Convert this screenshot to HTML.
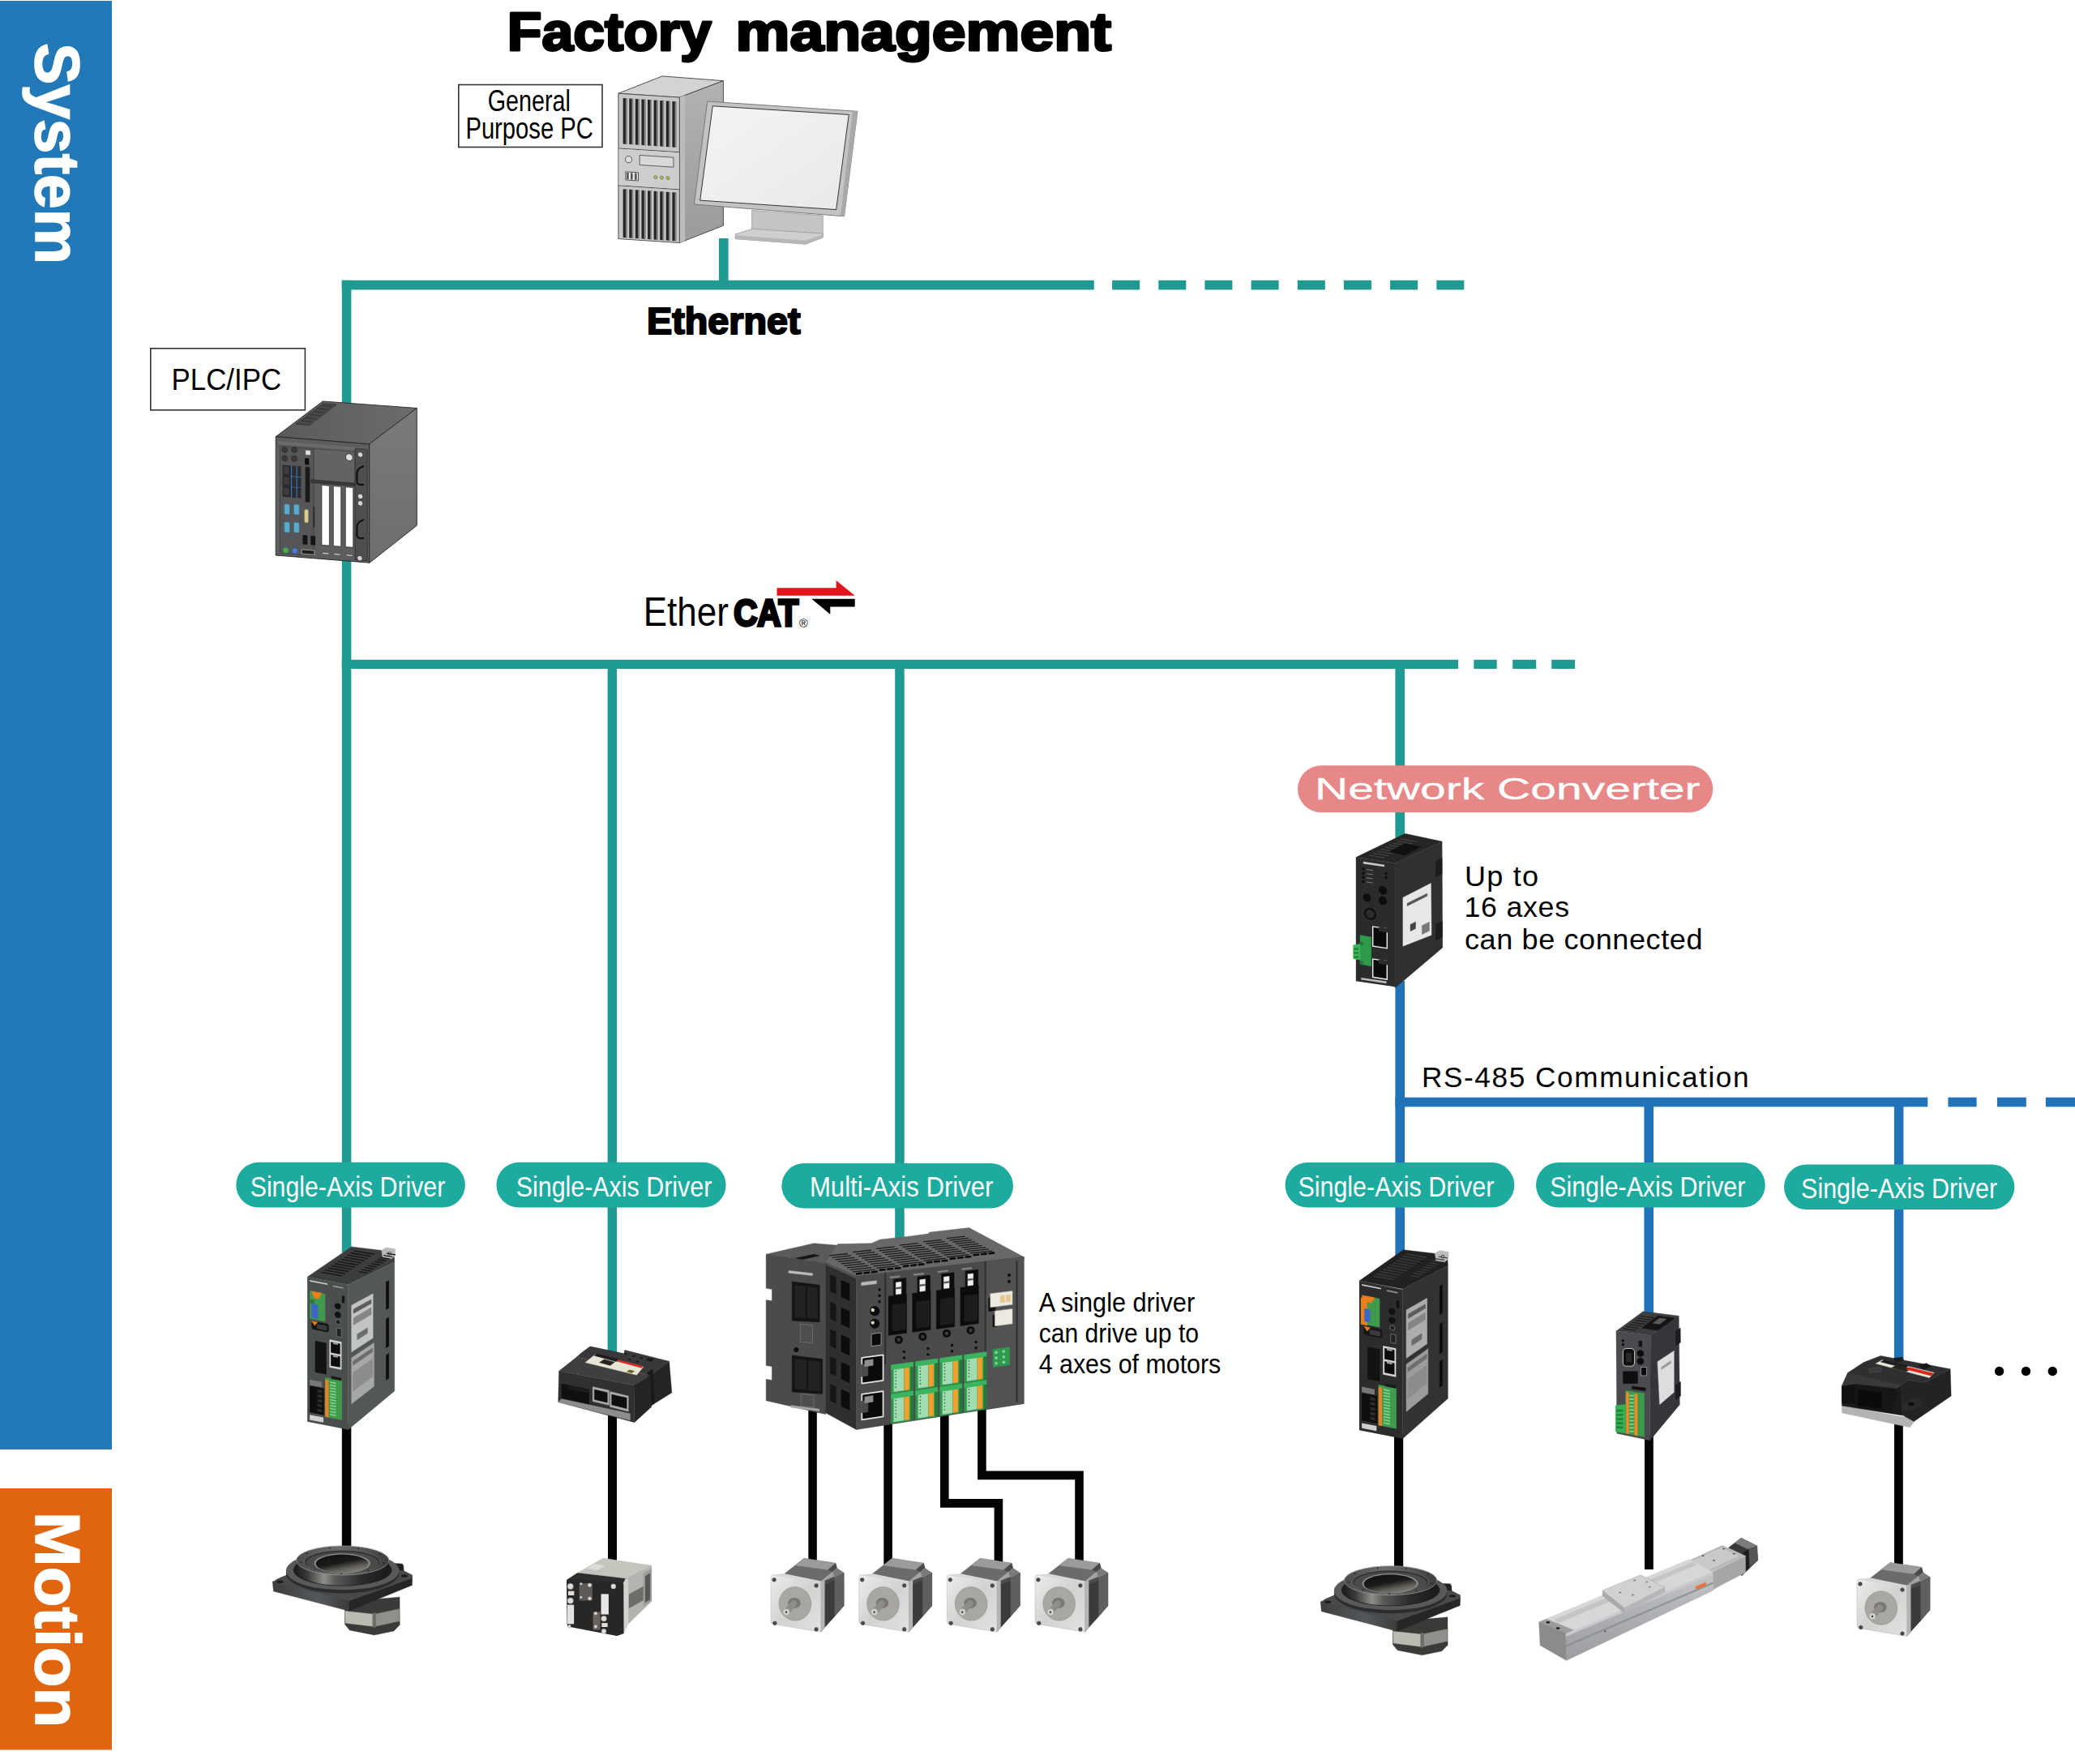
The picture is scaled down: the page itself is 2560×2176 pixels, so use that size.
<!DOCTYPE html>
<html lang="en"><head><meta charset="utf-8"><title>System configuration</title>
<style>
html,body{margin:0;padding:0;background:#fff}
body{width:2560px;height:2176px;overflow:hidden}
svg{display:block;font-family:'Liberation Sans', sans-serif}
</style></head><body>
<svg width="2560" height="2176" viewBox="0 0 2560 2176">
<defs><linearGradient id="gTowerR" x1="0" y1="0" x2="0" y2="1"><stop offset="0" stop-color="#b2b2b2"/><stop offset="1" stop-color="#9b9b9b"/></linearGradient><linearGradient id="gScreen" x1="0" y1="0" x2="1" y2="1"><stop offset="0" stop-color="#f4f4f4"/><stop offset="1" stop-color="#e9e9e9"/></linearGradient><linearGradient id="gIpcTop" x1="0" y1="0" x2="1" y2="0"><stop offset="0" stop-color="#5a5a5c"/><stop offset="1" stop-color="#6c6c6e"/></linearGradient><linearGradient id="gIpcR" x1="0" y1="0" x2="0" y2="1"><stop offset="0" stop-color="#7a7a7c"/><stop offset="1" stop-color="#6e6e70"/></linearGradient><linearGradient id="gRingSide" x1="0" y1="0" x2="1" y2="0"><stop offset="0" stop-color="#1e1e1e"/><stop offset="0.12" stop-color="#3a3a3a"/><stop offset="0.3" stop-color="#8e8e8a"/><stop offset="0.42" stop-color="#5a5a58"/><stop offset="0.7" stop-color="#2c2c2c"/><stop offset="1" stop-color="#1a1a1a"/></linearGradient><linearGradient id="gRingTop" x1="0" y1="0" x2="1" y2="0"><stop offset="0" stop-color="#4a4b4c"/><stop offset="0.45" stop-color="#6a6b6c"/><stop offset="1" stop-color="#3c3d3e"/></linearGradient><linearGradient id="gBaseL" x1="0" y1="0" x2="1" y2="0"><stop offset="0" stop-color="#3c3d3e"/><stop offset="0.6" stop-color="#55585a"/><stop offset="1" stop-color="#3a3b3c"/></linearGradient><linearGradient id="gHole" x1="0.2" y1="0" x2="0.75" y2="1"><stop offset="0" stop-color="#101010"/><stop offset="0.45" stop-color="#1b1b1b"/><stop offset="0.72" stop-color="#5e5c56"/><stop offset="1" stop-color="#8a877f"/></linearGradient><linearGradient id="gFlange" x1="0" y1="0" x2="1" y2="1"><stop offset="0" stop-color="#ededed"/><stop offset="0.5" stop-color="#d2d2d2"/><stop offset="1" stop-color="#e2e2e2"/></linearGradient><linearGradient id="gLinF" x1="0" y1="0" x2="0" y2="1"><stop offset="0" stop-color="#c2c4c6"/><stop offset="0.45" stop-color="#aeb0b3"/><stop offset="1" stop-color="#9b9da0"/></linearGradient></defs>
<rect x="0.0" y="1.0" width="138.0" height="1787.0" fill="#2379b7" />
<rect x="0.0" y="1836.0" width="138.0" height="322.5" fill="#e1640f" />
<text transform="translate(43.5,53) rotate(90)" font-size="78" font-weight="bold" fill="#fff" stroke="#fff" stroke-width="1.6" textLength="273" lengthAdjust="spacingAndGlyphs">System</text>
<text transform="translate(43.5,1865) rotate(90)" font-size="78" font-weight="bold" fill="#fff" stroke="#fff" stroke-width="1.6" textLength="266" lengthAdjust="spacingAndGlyphs">Motion</text>
<rect x="887.0" y="294.0" width="11.6" height="58.0" fill="#1f9a92" />
<rect x="421.8" y="345.8" width="928.0" height="11.6" fill="#1f9a92" />
<rect x="1372.1" y="345.8" width="34.0" height="11.6" fill="#1f9a92" />
<rect x="1429.3" y="345.8" width="34.0" height="11.6" fill="#1f9a92" />
<rect x="1486.4" y="345.8" width="34.0" height="11.6" fill="#1f9a92" />
<rect x="1543.6" y="345.8" width="34.0" height="11.6" fill="#1f9a92" />
<rect x="1600.8" y="345.8" width="34.0" height="11.6" fill="#1f9a92" />
<rect x="1657.9" y="345.8" width="34.0" height="11.6" fill="#1f9a92" />
<rect x="1715.1" y="345.8" width="34.0" height="11.6" fill="#1f9a92" />
<rect x="1772.3" y="345.8" width="34.0" height="11.6" fill="#1f9a92" />
<rect x="421.8" y="345.8" width="11.5" height="1199.2" fill="#1f9a92" />
<rect x="421.8" y="813.8" width="1377.2" height="11.2" fill="#1f9a92" />
<rect x="1818.3" y="813.8" width="28.4" height="11.2" fill="#1f9a92" />
<rect x="1866.2" y="813.8" width="29.0" height="11.2" fill="#1f9a92" />
<rect x="1914.2" y="813.8" width="28.9" height="11.2" fill="#1f9a92" />
<rect x="749.6" y="819.0" width="11.4" height="849.0" fill="#1f9a92" />
<rect x="1104.2" y="819.0" width="11.5" height="711.0" fill="#1f9a92" />
<rect x="1721.4" y="819.0" width="11.6" height="221.0" fill="#1f9a92" />
<rect x="1721.4" y="1210.0" width="11.6" height="340.0" fill="#2173b9" />
<rect x="1721.4" y="1353.7" width="656.9" height="11.6" fill="#2173b9" />
<rect x="2403.4" y="1353.7" width="35.2" height="11.6" fill="#2173b9" />
<rect x="2464.0" y="1353.7" width="35.8" height="11.6" fill="#2173b9" />
<rect x="2523.9" y="1353.7" width="36.1" height="11.6" fill="#2173b9" />
<rect x="2028.4" y="1360.0" width="11.6" height="265.0" fill="#2173b9" />
<rect x="2336.9" y="1360.0" width="11.5" height="320.0" fill="#2173b9" />
<rect x="421.8" y="1755.0" width="11.5" height="157.0" fill="#050505" />
<rect x="750.0" y="1740.0" width="11.0" height="185.0" fill="#050505" />
<rect x="997.3" y="1740.0" width="10.5" height="188.0" fill="#050505" />
<rect x="1090.3" y="1755.0" width="10.6" height="175.0" fill="#050505" />
<path d="M1165.3 1745 V1854.4 H1231.9 V1928" fill="none" stroke="#050505" stroke-width="10.6"/>
<path d="M1211.4 1738 V1819.9 H1331.5 V1928" fill="none" stroke="#050505" stroke-width="10.6"/>
<rect x="1720.0" y="1770.0" width="11.2" height="166.0" fill="#050505" />
<rect x="2029.0" y="1770.0" width="10.8" height="166.0" fill="#050505" />
<rect x="2337.0" y="1755.0" width="10.8" height="177.0" fill="#050505" />
<rect x="291.3" y="1433.8" width="282.6" height="55.8" rx="27.9" fill="#1daa9f"/>
<text x="308.7" y="1475.6" font-size="35.5" font-weight="normal" fill="#fff" text-anchor="start" textLength="240.6" lengthAdjust="spacingAndGlyphs" >Single-Axis Driver</text>
<rect x="612.4" y="1433.8" width="283.2" height="55.8" rx="27.9" fill="#1daa9f"/>
<text x="636.7" y="1475.6" font-size="35.5" font-weight="normal" fill="#fff" text-anchor="start" textLength="241.6" lengthAdjust="spacingAndGlyphs" >Single-Axis Driver</text>
<rect x="964.3" y="1435.0" width="285.7" height="55.5" rx="27.8" fill="#1daa9f"/>
<text x="998.9" y="1476.4" font-size="35.5" font-weight="normal" fill="#fff" text-anchor="start" textLength="226.6" lengthAdjust="spacingAndGlyphs" >Multi-Axis Driver</text>
<rect x="1585.5" y="1434.0" width="282.9" height="55.6" rx="27.8" fill="#1daa9f"/>
<text x="1601.4" y="1475.6" font-size="35.5" font-weight="normal" fill="#fff" text-anchor="start" textLength="242.0" lengthAdjust="spacingAndGlyphs" >Single-Axis Driver</text>
<rect x="1895.0" y="1434.0" width="282.8" height="55.6" rx="27.8" fill="#1daa9f"/>
<text x="1912.2" y="1475.6" font-size="35.5" font-weight="normal" fill="#fff" text-anchor="start" textLength="241.1" lengthAdjust="spacingAndGlyphs" >Single-Axis Driver</text>
<rect x="2201.0" y="1436.5" width="284.3" height="55.5" rx="27.8" fill="#1daa9f"/>
<text x="2222.1" y="1478.0" font-size="35.5" font-weight="normal" fill="#fff" text-anchor="start" textLength="242.0" lengthAdjust="spacingAndGlyphs" >Single-Axis Driver</text>
<rect x="1601.0" y="944.3" width="512.3" height="57.9" rx="29.0" fill="#e78888"/>
<text x="1622.0" y="985.8" font-size="37.5" font-weight="normal" fill="#fff" text-anchor="start" textLength="475.5" lengthAdjust="spacingAndGlyphs" stroke="#fff" stroke-width="0.3">Network Converter</text>
<text y="61.5" font-size="66" font-weight="bold" fill="#000" stroke="#000" stroke-width="3" stroke-linejoin="round"><tspan x="625.8" textLength="252" lengthAdjust="spacingAndGlyphs">Factory</tspan> <tspan x="907.6" textLength="463.5" lengthAdjust="spacingAndGlyphs">management</tspan></text>
<text x="798.0" y="411.5" font-size="46" font-weight="bold" fill="#000" text-anchor="start" textLength="189.5" lengthAdjust="spacingAndGlyphs" stroke="#000" stroke-width="2.2" stroke-linejoin="round">Ethernet</text>
<rect x="565.8" y="104.5" width="177.2" height="77" fill="#fff" stroke="#333" stroke-width="1.6"/>
<text font-size="36" fill="#000"><tspan x="601.8" y="137.4" textLength="102" lengthAdjust="spacingAndGlyphs">General</tspan> <tspan x="574.4" y="171.3" textLength="157.5" lengthAdjust="spacingAndGlyphs">Purpose PC</tspan></text>
<rect x="185.8" y="429.8" width="190.6" height="76" fill="#fff" stroke="#333" stroke-width="1.6"/>
<text x="211.6" y="481.4" font-size="36.5" font-weight="normal" fill="#000" text-anchor="start" textLength="135.5" lengthAdjust="spacingAndGlyphs" >PLC/IPC</text>
<text transform="translate(1807.0,1092.8) scale(1.03,1)" font-size="35" fill="#000" textLength="88.3" lengthAdjust="spacing">Up to</text>
<text transform="translate(1806.5,1131.3) scale(1.02,1)" font-size="35" fill="#000" textLength="127.0" lengthAdjust="spacing">16 axes</text>
<text transform="translate(1807.0,1170.5) scale(1.03,1)" font-size="35" fill="#000" textLength="285.0" lengthAdjust="spacing">can be connected</text>
<text transform="translate(1754.0,1341.0) scale(1.0,1)" font-size="35.2" fill="#000" textLength="403.5" lengthAdjust="spacing">RS-485 Communication</text>
<text font-size="34" fill="#000"><tspan x="1281.7" y="1617.5" textLength="192.4" lengthAdjust="spacingAndGlyphs">A single driver</tspan> <tspan x="1281.7" y="1656" textLength="197.3" lengthAdjust="spacingAndGlyphs">can drive up to</tspan> <tspan x="1281.7" y="1694.4" textLength="224.6" lengthAdjust="spacingAndGlyphs">4 axes of motors</tspan></text>
<text y="772.3" fill="#000"><tspan x="793.8" font-size="50.5" textLength="105" lengthAdjust="spacingAndGlyphs">Ether</tspan><tspan x="905.2" y="771.6" font-size="47" font-weight="bold" stroke="#000" stroke-width="3.4" textLength="80" lengthAdjust="spacingAndGlyphs">CAT</tspan><tspan x="986" y="774.4" font-size="14.5">®</tspan></text>
<polygon points="958.5,725.3 1031.6,725.3 1031.6,715.9 1054.7,734.7 958.5,734.7" fill="#e1151b"/>
<polygon points="1001.2,738.7 1054.7,738.7 1054.7,748.4 1024.3,748.4 1024.3,757.8" fill="#000"/>
<circle cx="2466.6" cy="1691.5" r="5.7" fill="#000"/>
<circle cx="2499.5" cy="1691.5" r="5.7" fill="#000"/>
<circle cx="2532.3" cy="1691.5" r="5.7" fill="#000"/>
<g transform="translate(740.00,80.00) scale(0.16385)"><polygon points="140,215 470,85 930,120 600,245" fill="#d3d3d3" stroke="#4a4a4a" stroke-width="6" stroke-linejoin="round" /><polygon points="600,245 930,120 930,1210 600,1340" fill="url(#gTowerR)" stroke="#4a4a4a" stroke-width="6" stroke-linejoin="round" /><polygon points="600,245 640,230 640,1325 600,1340" fill="#bcbcbc" stroke="#bcbcbc" stroke-width="3" stroke-linejoin="round" /><g transform="translate(140,215) skewY(3.73)"><rect x="0.0" y="0.0" width="460.0" height="1095.0" fill="#c7c7c7" stroke="#4a4a4a" stroke-width="6" /><rect x="35.0" y="33.0" width="30.0" height="345.0" fill="#262626" /><rect x="55.0" y="33.0" width="10.0" height="345.0" fill="#8d8d8d" /><rect x="35.0" y="718.0" width="30.0" height="365.0" fill="#262626" /><rect x="55.0" y="718.0" width="10.0" height="365.0" fill="#8d8d8d" /><rect x="81.3" y="33.0" width="30.0" height="345.0" fill="#262626" /><rect x="101.3" y="33.0" width="10.0" height="345.0" fill="#8d8d8d" /><rect x="81.3" y="718.0" width="30.0" height="365.0" fill="#262626" /><rect x="101.3" y="718.0" width="10.0" height="365.0" fill="#8d8d8d" /><rect x="127.6" y="33.0" width="30.0" height="345.0" fill="#262626" /><rect x="147.6" y="33.0" width="10.0" height="345.0" fill="#8d8d8d" /><rect x="127.6" y="718.0" width="30.0" height="365.0" fill="#262626" /><rect x="147.6" y="718.0" width="10.0" height="365.0" fill="#8d8d8d" /><rect x="173.9" y="33.0" width="30.0" height="345.0" fill="#262626" /><rect x="193.9" y="33.0" width="10.0" height="345.0" fill="#8d8d8d" /><rect x="173.9" y="718.0" width="30.0" height="365.0" fill="#262626" /><rect x="193.9" y="718.0" width="10.0" height="365.0" fill="#8d8d8d" /><rect x="220.2" y="33.0" width="30.0" height="345.0" fill="#262626" /><rect x="240.2" y="33.0" width="10.0" height="345.0" fill="#8d8d8d" /><rect x="220.2" y="718.0" width="30.0" height="365.0" fill="#262626" /><rect x="240.2" y="718.0" width="10.0" height="365.0" fill="#8d8d8d" /><rect x="266.5" y="33.0" width="30.0" height="345.0" fill="#262626" /><rect x="286.5" y="33.0" width="10.0" height="345.0" fill="#8d8d8d" /><rect x="266.5" y="718.0" width="30.0" height="365.0" fill="#262626" /><rect x="286.5" y="718.0" width="10.0" height="365.0" fill="#8d8d8d" /><rect x="312.8" y="33.0" width="30.0" height="345.0" fill="#262626" /><rect x="332.8" y="33.0" width="10.0" height="345.0" fill="#8d8d8d" /><rect x="312.8" y="718.0" width="30.0" height="365.0" fill="#262626" /><rect x="332.8" y="718.0" width="10.0" height="365.0" fill="#8d8d8d" /><rect x="359.1" y="33.0" width="30.0" height="345.0" fill="#262626" /><rect x="379.1" y="33.0" width="10.0" height="345.0" fill="#8d8d8d" /><rect x="359.1" y="718.0" width="30.0" height="365.0" fill="#262626" /><rect x="379.1" y="718.0" width="10.0" height="365.0" fill="#8d8d8d" /><rect x="405.4" y="33.0" width="30.0" height="345.0" fill="#262626" /><rect x="425.4" y="33.0" width="10.0" height="345.0" fill="#8d8d8d" /><rect x="405.4" y="718.0" width="30.0" height="365.0" fill="#262626" /><rect x="425.4" y="718.0" width="10.0" height="365.0" fill="#8d8d8d" /><rect x="0.0" y="410.0" width="460.0" height="6.0" fill="#4a4a4a" /><rect x="0.0" y="690.0" width="460.0" height="6.0" fill="#4a4a4a" /><rect x="3.0" y="416.0" width="454.0" height="274.0" fill="#cdcdcd" /><circle cx="77.0" cy="492.0" r="25.0" fill="#dcdcdc" stroke="#444" stroke-width="5"/><rect x="160.0" y="455.0" width="255.0" height="73.0" fill="#d9d9d9" stroke="#444" stroke-width="5" /><rect x="55.0" y="586.0" width="95.0" height="62.0" fill="#eeeeee" stroke="#333" stroke-width="5" /><rect x="62.0" y="592.0" width="16.0" height="50.0" fill="#555" /><rect x="92.0" y="592.0" width="16.0" height="50.0" fill="#555" /><rect x="122.0" y="592.0" width="16.0" height="50.0" fill="#555" /><circle cx="280.0" cy="613.0" r="12.0" fill="#b9c933" stroke="#555" stroke-width="4"/><circle cx="327.0" cy="613.0" r="12.0" fill="#b9c933" stroke="#555" stroke-width="4"/><circle cx="373.0" cy="613.0" r="12.0" fill="#b9c933" stroke="#555" stroke-width="4"/></g><polygon points="1145,1095 1680,1135 1680,1290 1145,1250" fill="#c4c4c4" stroke="#8a8a8a" stroke-width="4" stroke-linejoin="round" /><polygon points="1020,1275 1150,1235 1680,1270 1680,1300 1550,1350 1020,1310" fill="#cfcfcf" stroke="#8a8a8a" stroke-width="4" stroke-linejoin="round" /><polygon points="1020,1285 1550,1325 1680,1280 1680,1300 1550,1350 1020,1310" fill="#b6b6b6" stroke="#b6b6b6" stroke-width="3" stroke-linejoin="round" /><polygon points="810,275 1940,350 1840,1140 710,1050" fill="#c3c3c3" stroke="#777" stroke-width="6" stroke-linejoin="round" /><polygon points="1905,350 1940,352 1840,1140 1815,1135" fill="#a9a9a9" stroke="#a9a9a9" stroke-width="3" stroke-linejoin="round" /><polygon points="850,310 1875,375 1780,1090 755,1020" fill="url(#gScreen)" stroke="#333" stroke-width="6" stroke-linejoin="round" /></g>
<g transform="translate(320.00,480.00) scale(0.13041)"><polygon points="155,450 600,115 1490,180 1040,520" fill="url(#gIpcTop)" stroke="#262626" stroke-width="7" stroke-linejoin="round" /><polygon points="345,330 605,135 730,145 470,345" fill="#48484a" stroke="#262626" stroke-width="4" stroke-linejoin="round" /><line x1="400" y1="300" x2="495" y2="308" stroke="#2a2a2a" stroke-width="6"/><line x1="438" y1="271" x2="533" y2="279" stroke="#2a2a2a" stroke-width="6"/><line x1="476" y1="242" x2="571" y2="250" stroke="#2a2a2a" stroke-width="6"/><line x1="514" y1="213" x2="609" y2="221" stroke="#2a2a2a" stroke-width="6"/><line x1="552" y1="184" x2="647" y2="192" stroke="#2a2a2a" stroke-width="6"/><line x1="590" y1="155" x2="685" y2="163" stroke="#2a2a2a" stroke-width="6"/><polygon points="1040,520 1490,180 1490,1290 1040,1645" fill="url(#gIpcR)" stroke="#262626" stroke-width="7" stroke-linejoin="round" /><g transform="translate(155,450) skewY(4.52)"><rect x="0.0" y="0.0" width="885.0" height="1122.0" fill="#5d5d5f" stroke="#262626" stroke-width="7" /><rect x="22.0" y="40.0" width="848.0" height="30.0" fill="#6a6a6c" /><rect x="40.0" y="85.0" width="320.0" height="1015.0" fill="#565658" stroke="#333" stroke-width="4" /><rect x="360.0" y="85.0" width="390.0" height="310.0" fill="#636365" stroke="#333" stroke-width="4" /><circle cx="85.0" cy="118.0" r="26.0" fill="#3a3a3c" stroke="#222" stroke-width="5"/><circle cx="175.0" cy="111.0" r="26.0" fill="#3a3a3c" stroke="#222" stroke-width="5"/><circle cx="85.0" cy="198.0" r="26.0" fill="#3a3a3c" stroke="#222" stroke-width="5"/><circle cx="175.0" cy="194.0" r="26.0" fill="#3a3a3c" stroke="#222" stroke-width="5"/><rect x="280.0" y="103.0" width="50.0" height="47.0" fill="#e2e2e2" stroke="#333" stroke-width="4" /><rect x="275.0" y="180.0" width="40.0" height="62.0" fill="#0e0e0e" rx="10" /><rect x="65.0" y="262.0" width="175.0" height="300.0" fill="#2c2c2e" /><rect x="70.0" y="270.0" width="60.0" height="80.0" fill="#3c3c3e" stroke="#1a1a1a" stroke-width="4" /><rect x="70.0" y="370.0" width="60.0" height="80.0" fill="#3c3c3e" stroke="#1a1a1a" stroke-width="4" /><rect x="70.0" y="470.0" width="60.0" height="80.0" fill="#3c3c3e" stroke="#1a1a1a" stroke-width="4" /><rect x="145.0" y="262.0" width="8.0" height="300.0" fill="#3b7fc0" /><rect x="195.0" y="262.0" width="8.0" height="300.0" fill="#3b7fc0" /><rect x="140.0" y="362.0" width="100.0" height="5.0" fill="#3b7fc0" /><rect x="140.0" y="462.0" width="100.0" height="5.0" fill="#3b7fc0" /><rect x="280.0" y="263.0" width="42.0" height="333.0" fill="#1a1a1a" stroke="#3a3a3a" stroke-width="4" /><rect x="80.0" y="629.0" width="52.0" height="98.0" fill="#5ca9c9" stroke="#2f6f90" stroke-width="4" rx="14" /><rect x="170.0" y="625.0" width="52.0" height="98.0" fill="#5ca9c9" stroke="#2f6f90" stroke-width="4" rx="14" /><rect x="80.0" y="799.0" width="52.0" height="98.0" fill="#5ca9c9" stroke="#2f6f90" stroke-width="4" rx="14" /><rect x="170.0" y="795.0" width="52.0" height="98.0" fill="#5ca9c9" stroke="#2f6f90" stroke-width="4" rx="14" /><rect x="270.0" y="664.0" width="40.0" height="128.0" fill="#dacb92" stroke="#5a5030" stroke-width="3" rx="14" /><rect x="352.0" y="632.0" width="16.0" height="198.0" fill="#2e2e30" /><rect x="255.0" y="910.0" width="45.0" height="88.0" fill="#141414" rx="8" /><rect x="330.0" y="910.0" width="45.0" height="88.0" fill="#141414" rx="8" /><circle cx="95.0" cy="1067.0" r="28.0" fill="#4dab57" stroke="#2a6a32" stroke-width="4"/><circle cx="180.0" cy="1066.0" r="28.0" fill="#4b7bcb" stroke="#2a4a8a" stroke-width="4"/><rect x="245.0" y="1048.0" width="120.0" height="40.0" fill="#1e1e1e" stroke="#cfcfcf" stroke-width="5" /><rect x="335.0" y="380.0" width="415.0" height="28.0" fill="#38383a" stroke="#1e1e1e" stroke-width="4" /><rect x="435.0" y="424.0" width="72.0" height="566.0" fill="#ffffff" stroke="#1e1e1e" stroke-width="5" /><rect x="441.0" y="1060.0" width="60.0" height="14.0" fill="#dddddd" stroke="#222" stroke-width="3" /><rect x="545.0" y="424.0" width="72.0" height="566.0" fill="#ffffff" stroke="#1e1e1e" stroke-width="5" /><rect x="551.0" y="1060.0" width="60.0" height="14.0" fill="#dddddd" stroke="#222" stroke-width="3" /><rect x="660.0" y="424.0" width="72.0" height="566.0" fill="#ffffff" stroke="#1e1e1e" stroke-width="5" /><rect x="666.0" y="1060.0" width="60.0" height="14.0" fill="#dddddd" stroke="#222" stroke-width="3" /><circle cx="695.0" cy="140.0" r="34.0" fill="#dedede" stroke="#222" stroke-width="6"/><rect x="750.0" y="51.0" width="115.0" height="1053.0" fill="#4e4e50" stroke="#262626" stroke-width="5" /><circle cx="800.0" cy="107.0" r="26.0" fill="#d2d2d2" stroke="#222" stroke-width="6"/><circle cx="800.0" cy="502.0" r="26.0" fill="#d2d2d2" stroke="#222" stroke-width="6"/><circle cx="800.0" cy="567.0" r="26.0" fill="#d2d2d2" stroke="#222" stroke-width="6"/><circle cx="795.0" cy="1087.0" r="26.0" fill="#d2d2d2" stroke="#222" stroke-width="6"/><path d="M828 215 Q768 240 768 285 V365 Q768 400 828 387" fill="none" stroke="#101010" stroke-width="16" stroke-linecap="round"/><path d="M828 722 Q768 747 768 792 V872 Q768 907 828 894" fill="none" stroke="#101010" stroke-width="16" stroke-linecap="round"/></g></g>
<g transform="translate(1650.00,1010.00) scale(0.13040)"><polygon points="175,365 640,140 990,215 545,420" fill="#262626" stroke="#262626" stroke-width="3" stroke-linejoin="round" /><line x1="300" y1="345" x2="450" y2="370" stroke="#5a5a5a" stroke-width="5"/><line x1="338" y1="326" x2="488" y2="351" stroke="#5a5a5a" stroke-width="5"/><line x1="376" y1="307" x2="526" y2="332" stroke="#5a5a5a" stroke-width="5"/><line x1="414" y1="288" x2="564" y2="313" stroke="#5a5a5a" stroke-width="5"/><line x1="452" y1="269" x2="602" y2="294" stroke="#5a5a5a" stroke-width="5"/><line x1="490" y1="250" x2="640" y2="275" stroke="#5a5a5a" stroke-width="5"/><line x1="528" y1="231" x2="678" y2="256" stroke="#5a5a5a" stroke-width="5"/><line x1="566" y1="212" x2="716" y2="237" stroke="#5a5a5a" stroke-width="5"/><line x1="604" y1="193" x2="754" y2="218" stroke="#5a5a5a" stroke-width="5"/><line x1="690" y1="235" x2="570" y2="297" stroke="#555" stroke-width="0"/><line x1="720" y1="229" x2="600" y2="291" stroke="#555" stroke-width="0"/><line x1="750" y1="223" x2="630" y2="285" stroke="#555" stroke-width="0"/><line x1="780" y1="217" x2="660" y2="279" stroke="#555" stroke-width="0"/><line x1="810" y1="211" x2="690" y2="273" stroke="#555" stroke-width="0"/><line x1="840" y1="205" x2="720" y2="267" stroke="#555" stroke-width="0"/><line x1="870" y1="199" x2="750" y2="261" stroke="#555" stroke-width="0"/><polygon points="490,310 640,235 790,265 640,345" fill="#101010" stroke="#101010" stroke-width="3" stroke-linejoin="round" /><polygon points="545,420 990,215 995,1220 545,1600" fill="#303031" stroke="#303031" stroke-width="3" stroke-linejoin="round" /><polygon points="930,400 990,372 990,520 930,548" fill="#1c1c1c" stroke="#1c1c1c" stroke-width="3" stroke-linejoin="round" /><polygon points="930,1000 992,970 992,1120 930,1150" fill="#1c1c1c" stroke="#1c1c1c" stroke-width="3" stroke-linejoin="round" /><polygon points="620,745 885,610 890,1100 620,1205" fill="#e7e7e7" stroke="#e7e7e7" stroke-width="3" stroke-linejoin="round" /><polygon points="660,800 850,705 850,730 660,826" fill="#555" stroke="#555" stroke-width="3" stroke-linejoin="round" /><polygon points="690,1000 740,975 740,1040 690,1064" fill="#444" stroke="#444" stroke-width="3" stroke-linejoin="round" /><polygon points="800,1010 870,975 870,1060 800,1094" fill="#777" stroke="#777" stroke-width="3" stroke-linejoin="round" /><g transform="translate(175,365) skewY(8.45)"><rect x="0.0" y="0.0" width="370.0" height="1170.0" fill="#2b2b2c" /><rect x="70.0" y="30.0" width="200.0" height="20.0" fill="#c9c9c9" /><circle cx="70.0" cy="100.0" r="13.0" fill="#0c0c0c"/><rect x="100.0" y="95.0" width="60.0" height="8.0" fill="#777" /><circle cx="70.0" cy="140.0" r="13.0" fill="#0c0c0c"/><rect x="100.0" y="135.0" width="60.0" height="8.0" fill="#777" /><circle cx="70.0" cy="180.0" r="13.0" fill="#0c0c0c"/><rect x="100.0" y="175.0" width="60.0" height="8.0" fill="#777" /><circle cx="70.0" cy="220.0" r="13.0" fill="#0c0c0c"/><rect x="100.0" y="215.0" width="60.0" height="8.0" fill="#777" /><circle cx="285.0" cy="110.0" r="12.0" fill="#0c0c0c"/><circle cx="285.0" cy="150.0" r="12.0" fill="#0c0c0c"/><circle cx="105.0" cy="365.0" r="38.0" fill="#0d0d0d"/><circle cx="255.0" cy="275.0" r="40.0" fill="#0d0d0d"/><circle cx="255.0" cy="372.0" r="40.0" fill="#0d0d0d"/><circle cx="135.0" cy="515.0" r="66.0" fill="#111" stroke="#3a3a3a" stroke-width="8"/><circle cx="135.0" cy="515.0" r="40.0" fill="#2c2c2c"/><rect x="160.0" y="631.0" width="135.0" height="185.0" fill="#0b0b0b" stroke="#f0f0f0" stroke-width="11" /><rect x="215.0" y="625.0" width="86.0" height="42.0" fill="#2b2b2c" /><rect x="160.0" y="938.0" width="135.0" height="172.0" fill="#0b0b0b" stroke="#f0f0f0" stroke-width="11" /><rect x="215.0" y="932.0" width="86.0" height="42.0" fill="#2b2b2c" /><rect x="50.0" y="1130.0" width="240.0" height="20.0" fill="#bdbdbd" /></g><polygon points="215,1100 320,1120 320,1395 215,1375" fill="#2f9a4a" stroke="#2f9a4a" stroke-width="3" stroke-linejoin="round" /><polygon points="150,1195 215,1185 215,1335 150,1325" fill="#3cb45a" stroke="#3cb45a" stroke-width="3" stroke-linejoin="round" /><circle cx="230.0" cy="1180.0" r="18.0" fill="#1f7a38"/><circle cx="230.0" cy="1360.0" r="18.0" fill="#1f7a38"/><rect x="155.0" y="1225.0" width="45.0" height="14.0" fill="#1f7a38" /><rect x="155.0" y="1262.0" width="45.0" height="14.0" fill="#1f7a38" /><rect x="155.0" y="1300.0" width="45.0" height="14.0" fill="#1f7a38" /></g>
<g transform="translate(360.00,1520.00) scale(0.14734)"><polygon points="130,375 500,122 855,165 860,250 470,440" fill="#3b3d3e" stroke="#3b3d3e" stroke-width="3" stroke-linejoin="round" /><polygon points="752,150 790,128 866,140 864,195 835,222 760,210" fill="#bcbcbc" stroke="#bcbcbc" stroke-width="3" stroke-linejoin="round" /><circle cx="818.0" cy="178.0" r="15.0" fill="#4a4a4a"/><circle cx="818.0" cy="178.0" r="8.0" fill="#e8e8e8"/><line x1="250" y1="335" x2="420" y2="365" stroke="#141414" stroke-width="9"/><line x1="277" y1="317" x2="447" y2="347" stroke="#141414" stroke-width="9"/><line x1="304" y1="299" x2="474" y2="329" stroke="#141414" stroke-width="9"/><line x1="331" y1="281" x2="501" y2="311" stroke="#141414" stroke-width="9"/><line x1="358" y1="263" x2="528" y2="293" stroke="#141414" stroke-width="9"/><line x1="385" y1="245" x2="555" y2="275" stroke="#141414" stroke-width="9"/><line x1="412" y1="227" x2="582" y2="257" stroke="#141414" stroke-width="9"/><line x1="439" y1="209" x2="609" y2="239" stroke="#141414" stroke-width="9"/><line x1="466" y1="191" x2="636" y2="221" stroke="#141414" stroke-width="9"/><line x1="493" y1="173" x2="663" y2="203" stroke="#141414" stroke-width="9"/><line x1="520" y1="155" x2="690" y2="185" stroke="#141414" stroke-width="9"/><line x1="560" y1="330" x2="635" y2="342" stroke="#141414" stroke-width="8"/><line x1="586" y1="313" x2="661" y2="325" stroke="#141414" stroke-width="8"/><line x1="612" y1="296" x2="687" y2="308" stroke="#141414" stroke-width="8"/><line x1="638" y1="279" x2="713" y2="291" stroke="#141414" stroke-width="8"/><line x1="664" y1="262" x2="739" y2="274" stroke="#141414" stroke-width="8"/><line x1="690" y1="245" x2="765" y2="257" stroke="#141414" stroke-width="8"/><line x1="716" y1="228" x2="791" y2="240" stroke="#141414" stroke-width="8"/><line x1="742" y1="211" x2="817" y2="223" stroke="#141414" stroke-width="8"/><line x1="768" y1="194" x2="843" y2="206" stroke="#141414" stroke-width="8"/><line x1="794" y1="177" x2="869" y2="189" stroke="#141414" stroke-width="8"/><polygon points="470.0,440.0 860.0,250.0 860.0,1330.0 470.0,1655.0" fill="#545758" stroke="#545758" stroke-width="3" stroke-linejoin="round" /><polygon points="500.0,612.1 679.8,514.8 679.8,886.1 500.0,1003.6" fill="#c2c3c3" stroke="#c2c3c3" stroke-width="3" stroke-linejoin="round" /><polygon points="516.8,645.0 665.0,563.0 665.0,597.5 516.8,680.9" fill="#5c5c5c" stroke="#5c5c5c" stroke-width="3" stroke-linejoin="round" /><polygon points="516.8,716.9 665.0,631.9 665.0,689.2 516.8,776.8" fill="#858585" stroke="#858585" stroke-width="3" stroke-linejoin="round" /><polygon points="548.0,853.4 633.8,800.4 633.8,846.7 548.0,901.0" fill="#6c6c6c" stroke="#6c6c6c" stroke-width="3" stroke-linejoin="round" /><polygon points="500.0,1051.8 688.4,926.1 688.4,1290.7 500.0,1437.2" fill="#a6a7a7" stroke="#a6a7a7" stroke-width="3" stroke-linejoin="round" /><polygon points="512.9,1079.2 676.7,968.2 676.7,1002.5 512.9,1115.2" fill="#6e6e6e" stroke="#6e6e6e" stroke-width="3" stroke-linejoin="round" /><polygon points="512.9,1175.2 676.7,1059.7 676.7,1208.3 512.9,1331.2" fill="#8c8c8c" stroke="#8c8c8c" stroke-width="3" stroke-linejoin="round" /><polygon points="789.8,416.7 812.4,404.8 812.4,635.0 789.8,648.6" fill="#0c0c0c" stroke="#0c0c0c" stroke-width="3" stroke-linejoin="round" /><polygon points="789.8,725.9 812.4,711.8 812.4,953.0 789.8,968.9" fill="#0c0c0c" stroke="#0c0c0c" stroke-width="3" stroke-linejoin="round" /><polygon points="789.8,1029.6 812.4,1013.3 812.4,1221.6 789.8,1239.4" fill="#0c0c0c" stroke="#0c0c0c" stroke-width="3" stroke-linejoin="round" /><g transform="translate(130,375) skewY(10.82) scale(1.0000,1)"><rect x="0.0" y="0.0" width="340.0" height="1212.0" fill="#4b4e4f" /><rect x="20.0" y="22.0" width="150.0" height="12.0" fill="#c8c8c8" /><rect x="215.0" y="30.0" width="85.0" height="10.0" fill="#a0a0a0" /><rect x="20.0" y="112.0" width="130.0" height="233.0" fill="#3f9b4b" /><polygon points="35,112 120,112 95,165 60,165" fill="#ea7f1c" stroke="#ea7f1c" stroke-width="3" stroke-linejoin="round" /><rect x="35.0" y="215.0" width="55.0" height="120.0" fill="#3a68c4" /><rect x="20.0" y="180.0" width="40.0" height="35.0" fill="#2f7a3a" /><rect x="35.0" y="360.0" width="145.0" height="70.0" fill="#161616" rx="18" /><polygon points="38,362 85,362 62,395" fill="#ea7f1c" stroke="#ea7f1c" stroke-width="3" stroke-linejoin="round" /><rect x="80.0" y="378.0" width="85.0" height="40.0" fill="#3c3c3c" rx="10" /><circle cx="255.0" cy="196.0" r="26.0" fill="#111"/><circle cx="255.0" cy="268.0" r="26.0" fill="#111"/><circle cx="258.0" cy="328.0" r="20.0" fill="#1e1e1e" stroke="#777" stroke-width="5"/><rect x="290.0" y="100.0" width="22.0" height="60.0" fill="#111" /><rect x="245.0" y="380.0" width="40.0" height="70.0" fill="#222" stroke="#888" stroke-width="4" /><rect x="65.0" y="522.0" width="95.0" height="263.0" fill="#121212" /><rect x="185.0" y="488.0" width="102.0" height="234.0" fill="#d4d4d4" /><rect x="197.0" y="505.0" width="78.0" height="90.0" fill="#0c0c0c" /><rect x="197.0" y="612.0" width="78.0" height="93.0" fill="#0c0c0c" /><rect x="215.0" y="500.0" width="42.0" height="20.0" fill="#9c9c9c" /><rect x="215.0" y="607.0" width="42.0" height="20.0" fill="#9c9c9c" /><rect x="150.0" y="812.0" width="140.0" height="330.0" fill="#3f9b4b" /><rect x="150.0" y="830.0" width="28.0" height="312.0" fill="#e8832a" /><rect x="190.0" y="838.0" width="50.0" height="12.0" fill="#7fd08c" /><rect x="190.0" y="862.5" width="50.0" height="12.0" fill="#7fd08c" /><rect x="190.0" y="887.0" width="50.0" height="12.0" fill="#7fd08c" /><rect x="190.0" y="911.5" width="50.0" height="12.0" fill="#7fd08c" /><rect x="190.0" y="936.0" width="50.0" height="12.0" fill="#7fd08c" /><rect x="190.0" y="960.5" width="50.0" height="12.0" fill="#7fd08c" /><rect x="190.0" y="985.0" width="50.0" height="12.0" fill="#7fd08c" /><rect x="190.0" y="1009.5" width="50.0" height="12.0" fill="#7fd08c" /><rect x="190.0" y="1034.0" width="50.0" height="12.0" fill="#7fd08c" /><rect x="190.0" y="1058.5" width="50.0" height="12.0" fill="#7fd08c" /><rect x="190.0" y="1083.0" width="50.0" height="12.0" fill="#7fd08c" /><rect x="190.0" y="1107.5" width="50.0" height="12.0" fill="#7fd08c" /><rect x="200.0" y="790.0" width="85.0" height="25.0" fill="#1c1c1c" /><rect x="20.0" y="905.0" width="120.0" height="225.0" fill="#0e0e0e" /><rect x="85.0" y="925.0" width="40.0" height="25.0" fill="#2b2b2b" /><rect x="85.0" y="965.0" width="40.0" height="25.0" fill="#2b2b2b" /><rect x="85.0" y="1005.0" width="40.0" height="25.0" fill="#2b2b2b" /><rect x="85.0" y="1045.0" width="40.0" height="25.0" fill="#2b2b2b" /><rect x="85.0" y="1085.0" width="40.0" height="25.0" fill="#2b2b2b" /><rect x="20.0" y="855.0" width="100.0" height="45.0" fill="#777" /><rect x="20.0" y="1150.0" width="115.0" height="42.0" fill="#cfcfcf" /></g></g>
<g transform="translate(320.00,1890.00) scale(0.10121)"><polygon points="1040,850 1710,790 1712,1130 1640,1205 1400,1255 1100,1195 1042,1125" fill="#3a3a38" stroke="#3a3a38" stroke-width="3" stroke-linejoin="round" /><polygon points="1045,962 1400,1000 1400,1152 1050,1108" fill="#babcb2" stroke="#babcb2" stroke-width="3" stroke-linejoin="round" /><polygon points="1400,1000 1706,935 1708,1085 1400,1152" fill="#8e908a" stroke="#8e908a" stroke-width="3" stroke-linejoin="round" /><polygon points="1380,985 1420,985 1420,1160 1380,1160" fill="#6c6e68" stroke="#6c6e68" stroke-width="3" stroke-linejoin="round" /><polygon points="160,600 1100,825 1092,962 172,722" fill="url(#gBaseL)" stroke="url(#gBaseL)" stroke-width="3" stroke-linejoin="round" /><polygon points="1100,825 1865,545 1862,648 1092,962" fill="#262627" stroke="#262627" stroke-width="3" stroke-linejoin="round" /><path d="M160,608 L215,570 L330,520 Q420,330 1015,300 Q1600,300 1700,430 L1760,400 L1762,470 L1865,520 L1866,560 L1100,838 Z" fill="#47494a"/><polygon points="1640,380 1745,385 1760,470 1690,460" fill="#222" stroke="#222" stroke-width="3" stroke-linejoin="round" /><ellipse cx="250.0" cy="606.0" rx="42.0" ry="17.0" fill="#1a1a1a" /><ellipse cx="1768.0" cy="533.0" rx="40.0" ry="16.0" fill="#1a1a1a" /><ellipse cx="1015.0" cy="500.0" rx="690.0" ry="245.0" fill="#2b2c2d" /><ellipse cx="1015.0" cy="470.0" rx="690.0" ry="235.0" fill="#57595a" /><ellipse cx="1015.0" cy="462.0" rx="600.0" ry="195.0" fill="#1d1d1e" /><path d="M450,345 V470 A565,180 0 0 0 1580,470 V345 Z" fill="url(#gRingSide)"/><ellipse cx="1015.0" cy="345.0" rx="565.0" ry="178.0" fill="url(#gRingTop)" stroke="#9c9d9e" stroke-width="7" /><ellipse cx="1012.0" cy="362.0" rx="462.0" ry="143.0" fill="#303132" stroke="#77787a" stroke-width="5" /><ellipse cx="1012.0" cy="372.0" rx="440.0" ry="132.0" fill="#4a4b4c" /><ellipse cx="1010.0" cy="381.0" rx="342.0" ry="121.0" fill="#8e8f8c" /><ellipse cx="1010.0" cy="385.0" rx="322.0" ry="113.0" fill="url(#gHole)" /><circle cx="1515.8" cy="378.3" r="8.0" fill="#1a1a1a"/><circle cx="1330.2" cy="471.1" r="8.0" fill="#1a1a1a"/><circle cx="997.1" cy="504.9" r="8.0" fill="#1a1a1a"/><circle cx="672.4" cy="463.9" r="8.0" fill="#1a1a1a"/><circle cx="508.0" cy="367.3" r="8.0" fill="#1a1a1a"/><circle cx="580.8" cy="260.2" r="8.0" fill="#1a1a1a"/><circle cx="856.8" cy="192.8" r="8.0" fill="#1a1a1a"/><circle cx="1206.8" cy="196.7" r="8.0" fill="#1a1a1a"/><circle cx="1467.1" cy="269.9" r="8.0" fill="#1a1a1a"/></g>
<g transform="translate(670.00,1640.00) scale(0.08673)"><polygon points="540,335 670,240 1150,340 1160,292 1795,452 1525,652 480,388" fill="#38383a" stroke="#38383a" stroke-width="3" stroke-linejoin="round" /><polygon points="1525,652 1795,452 1832,900 1560,1068" fill="#252527" stroke="#252527" stroke-width="3" stroke-linejoin="round" /><polygon points="1480,620 1560,560 1590,1050 1530,1090" fill="#1a1a1b" stroke="#1a1a1b" stroke-width="3" stroke-linejoin="round" /><ellipse cx="1180.0" cy="350.0" rx="22.0" ry="13.0" fill="#1a1a1b" /><ellipse cx="1290.0" cy="378.0" rx="22.0" ry="13.0" fill="#1a1a1b" /><ellipse cx="1400.0" cy="405.0" rx="22.0" ry="13.0" fill="#1a1a1b" /><ellipse cx="1230.0" cy="430.0" rx="22.0" ry="13.0" fill="#1a1a1b" /><ellipse cx="1340.0" cy="458.0" rx="22.0" ry="13.0" fill="#1a1a1b" /><ellipse cx="1520.0" cy="430.0" rx="50.0" ry="24.0" fill="#1c1c1d" /><polygon points="225,592 480,388 1525,652 1292,792" fill="#3f3f41" stroke="#3f3f41" stroke-width="3" stroke-linejoin="round" /><polygon points="225,592 1292,792 1300,1322 215,1032" fill="#303032" stroke="#303032" stroke-width="3" stroke-linejoin="round" /><polygon points="1292,792 1525,652 1542,1100 1300,1322" fill="#252527" stroke="#252527" stroke-width="3" stroke-linejoin="round" /><polygon points="262,985 1240,1195 1240,1292 215,1035" fill="#8d8d8d" stroke="#8d8d8d" stroke-width="3" stroke-linejoin="round" /><polygon points="262,772 655,852 655,1062 262,978" fill="#101010" stroke="#101010" stroke-width="3" stroke-linejoin="round" /><polygon points="360,800 655,858 655,905 360,845" fill="#1d1d1e" stroke="#1d1d1e" stroke-width="3" stroke-linejoin="round" /><polygon points="705,812 940,866 940,1078 705,1022" fill="#a9aaab" stroke="#a9aaab" stroke-width="3" stroke-linejoin="round" /><polygon points="730,852 915,896 915,1040 730,996" fill="#0e0e0e" stroke="#0e0e0e" stroke-width="3" stroke-linejoin="round" /><polygon points="950,882 1215,946 1215,1166 950,1102" fill="#a9aaab" stroke="#a9aaab" stroke-width="3" stroke-linejoin="round" /><polygon points="975,922 1190,972 1190,1126 975,1072" fill="#0e0e0e" stroke="#0e0e0e" stroke-width="3" stroke-linejoin="round" /><polygon points="600,470 740,355 1430,530 1330,650" fill="#e7e5d3" stroke="#e7e5d3" stroke-width="3" stroke-linejoin="round" /><polygon points="725,372 762,345 1075,425 1040,458" fill="#1d1d1d" stroke="#1d1d1d" stroke-width="3" stroke-linejoin="round" /><polygon points="800,470 870,425 1020,465 955,512" fill="#26241f" stroke="#26241f" stroke-width="3" stroke-linejoin="round" /><polygon points="1045,452 1066,433 1424,524 1404,548" fill="#d7281e" stroke="#d7281e" stroke-width="3" stroke-linejoin="round" /><polygon points="1190,600 1230,575 1300,592 1262,620" fill="#6a5a20" stroke="#6a5a20" stroke-width="3" stroke-linejoin="round" /></g>
<g transform="translate(680.00,1900.00) scale(0.07369)"><polygon points="440,545 870,300 1680,420 1245,640" fill="#c5c5be" stroke="#c5c5be" stroke-width="3" stroke-linejoin="round" /><polygon points="600,470 720,400 900,425 780,500" fill="#dcdcd8" stroke="#dcdcd8" stroke-width="3" stroke-linejoin="round" /><polygon points="1245,640 1680,420 1682,1020 1292,1400" fill="#b4b4ae" stroke="#b4b4ae" stroke-width="3" stroke-linejoin="round" /><polygon points="1300,905 1545,770 1545,1005 1300,1140" fill="#6d6d69" stroke="#6d6d69" stroke-width="3" stroke-linejoin="round" /><polygon points="1545,555 1680,470 1682,1020 1545,1110" fill="#9c9c98" stroke="#9c9c98" stroke-width="3" stroke-linejoin="round" /><polygon points="1575,600 1655,550 1655,990 1575,1040" fill="#565654" stroke="#565654" stroke-width="3" stroke-linejoin="round" /><polygon points="1200,715 1250,640 1292,655 1292,1400 1216,1562" fill="#d2d2d0" stroke="#d2d2d0" stroke-width="3" stroke-linejoin="round" /><polygon points="262,662 440,545 1245,640 1205,716" fill="#2e2e2e" stroke="#2e2e2e" stroke-width="3" stroke-linejoin="round" /><path d="M258,690 Q258,650 300,653 L1170,703 Q1212,705 1212,745 L1216,1562 L1100,1602 L300,1448 Q268,1440 266,1400 Z" fill="#272727"/><rect x="470.0" y="720.0" width="220.0" height="290.0" fill="#5c5957" /><rect x="700.0" y="1200.0" width="122.0" height="300.0" fill="#6b615d" /><rect x="835.0" y="900.0" width="127.0" height="342.0" fill="#e6e6e6" /><rect x="272.0" y="1080.0" width="110.0" height="322.0" fill="#e2e2e2" /><rect x="285.0" y="850.0" width="100.0" height="72.0" fill="#dedede" /><rect x="845.0" y="1385.0" width="100.0" height="67.0" fill="#dedede" /><circle cx="322.0" cy="772.0" r="50.0" fill="#dcdcdc" stroke="#8a8a8a" stroke-width="6"/><circle cx="322.0" cy="1012.0" r="50.0" fill="#dcdcdc" stroke="#8a8a8a" stroke-width="6"/><circle cx="1042.0" cy="772.0" r="42.0" fill="#dcdcdc" stroke="#8a8a8a" stroke-width="6"/><circle cx="882.0" cy="1312.0" r="46.0" fill="#dcdcdc" stroke="#8a8a8a" stroke-width="6"/><circle cx="882.0" cy="1522.0" r="40.0" fill="#dcdcdc" stroke="#8a8a8a" stroke-width="6"/><circle cx="645.0" cy="750.0" r="32.0" fill="#dcdcdc" stroke="#8a8a8a" stroke-width="6"/><circle cx="645.0" cy="975.0" r="30.0" fill="#dcdcdc" stroke="#8a8a8a" stroke-width="6"/><circle cx="745.0" cy="1225.0" r="26.0" fill="#dcdcdc" stroke="#8a8a8a" stroke-width="6"/><circle cx="745.0" cy="1445.0" r="26.0" fill="#dcdcdc" stroke="#8a8a8a" stroke-width="6"/><circle cx="305.0" cy="1440.0" r="26.0" fill="#dcdcdc" stroke="#8a8a8a" stroke-width="6"/><circle cx="500.0" cy="730.0" r="20.0" fill="#dcdcdc" stroke="#8a8a8a" stroke-width="6"/><circle cx="500.0" cy="955.0" r="20.0" fill="#dcdcdc" stroke="#8a8a8a" stroke-width="6"/></g>
<g transform="translate(930.00,1500.00) scale(0.16866)"><polygon points="90,280 440,200 620,215 525,345" fill="#5a5a5c" stroke="#5a5a5c" stroke-width="3" stroke-linejoin="round" /><polygon points="300,310 440,280 480,290 340,322" fill="#151515" stroke="#151515" stroke-width="3" stroke-linejoin="round" /><polygon points="90,280 525,345 525,1450 90,1350" fill="#4b4b4d" stroke="#4b4b4d" stroke-width="3" stroke-linejoin="round" /><polygon points="85,530 130,538 130,618 85,610" fill="#ffffff" stroke="#ffffff" stroke-width="3" stroke-linejoin="round" /><polygon points="85,1095 130,1103 130,1198 85,1190" fill="#ffffff" stroke="#ffffff" stroke-width="3" stroke-linejoin="round" /><polygon points="280,480 482,506 482,776 280,765" fill="#141414" stroke="#141414" stroke-width="3" stroke-linejoin="round" /><polygon points="300,505 378,515 378,745 300,738" fill="#222224" stroke="#222224" stroke-width="3" stroke-linejoin="round" /><polygon points="392,517 465,527 465,752 392,746" fill="#222224" stroke="#222224" stroke-width="3" stroke-linejoin="round" /><polygon points="280,1020 502,1046 502,1302 280,1286" fill="#141414" stroke="#141414" stroke-width="3" stroke-linejoin="round" /><polygon points="300,1045 385,1055 385,1272 300,1262" fill="#222224" stroke="#222224" stroke-width="3" stroke-linejoin="round" /><polygon points="400,1057 485,1067 485,1282 400,1274" fill="#222224" stroke="#222224" stroke-width="3" stroke-linejoin="round" /><polygon points="340,790 430,800 430,930 340,920" fill="#4e4e50" stroke="#8a8a8a" stroke-width="3" stroke-linejoin="round" /><polygon points="345,1300 440,1310 440,1400 345,1390" fill="#4e4e50" stroke="#8a8a8a" stroke-width="3" stroke-linejoin="round" /><circle cx="310.0" cy="978.0" r="18.0" fill="#0e0e0e"/><polygon points="255,400 430,420 430,436 255,416" fill="#bdbdbd" stroke="#bdbdbd" stroke-width="3" stroke-linejoin="round" /><polygon points="270,1385 480,1412 480,1428 270,1400" fill="#a5a5a5" stroke="#a5a5a5" stroke-width="3" stroke-linejoin="round" /><polygon points="525,340 750,440 750,1562 525,1440" fill="#2f2f31" stroke="#2f2f31" stroke-width="3" stroke-linejoin="round" /><polygon points="640,470 700,496 700,620 640,592" fill="#0d0d0d" stroke="#0d0d0d" stroke-width="3" stroke-linejoin="round" /><polygon points="560,430 600,448 600,570 560,550" fill="#151516" stroke="#151516" stroke-width="3" stroke-linejoin="round" /><polygon points="640,670 700,696 700,820 640,792" fill="#0d0d0d" stroke="#0d0d0d" stroke-width="3" stroke-linejoin="round" /><polygon points="560,630 600,648 600,770 560,750" fill="#151516" stroke="#151516" stroke-width="3" stroke-linejoin="round" /><polygon points="640,870 700,896 700,1020 640,992" fill="#0d0d0d" stroke="#0d0d0d" stroke-width="3" stroke-linejoin="round" /><polygon points="560,830 600,848 600,970 560,950" fill="#151516" stroke="#151516" stroke-width="3" stroke-linejoin="round" /><polygon points="640,1070 700,1096 700,1220 640,1192" fill="#0d0d0d" stroke="#0d0d0d" stroke-width="3" stroke-linejoin="round" /><polygon points="560,1030 600,1048 600,1170 560,1150" fill="#151516" stroke="#151516" stroke-width="3" stroke-linejoin="round" /><polygon points="640,1270 700,1296 700,1420 640,1392" fill="#0d0d0d" stroke="#0d0d0d" stroke-width="3" stroke-linejoin="round" /><polygon points="560,1230 600,1248 600,1370 560,1350" fill="#151516" stroke="#151516" stroke-width="3" stroke-linejoin="round" /><polygon points="525,340 615,205 860,200 925,172 1135,149 1272,131 1289,118 1575,86 1975,300 750,440" fill="#68686a" stroke="#68686a" stroke-width="3" stroke-linejoin="round" /><polygon points="525,340 750,440 1975,300 1975,318 750,458 525,356" fill="#505052" stroke="#505052" stroke-width="3" stroke-linejoin="round" /><line x1="746.5" y1="423.5" x2="792.5" y2="418.5" stroke="#0a0a0a" stroke-width="15"/><line x1="802.5" y1="417.5" x2="848.5" y2="412.5" stroke="#0a0a0a" stroke-width="15"/><line x1="858.5" y1="411.5" x2="904.5" y2="406.5" stroke="#0a0a0a" stroke-width="15"/><line x1="725.0" y1="408.6" x2="887.5" y2="391.6" stroke="#1a1a1a" stroke-width="7.5"/><line x1="703.5" y1="393.8" x2="862.5" y2="377.1" stroke="#1a1a1a" stroke-width="7.5"/><line x1="682.0" y1="378.9" x2="837.5" y2="362.6" stroke="#1a1a1a" stroke-width="7.5"/><line x1="660.5" y1="364.1" x2="812.5" y2="348.1" stroke="#1a1a1a" stroke-width="7.5"/><line x1="639.0" y1="349.2" x2="787.5" y2="333.7" stroke="#1a1a1a" stroke-width="7.5"/><line x1="617.5" y1="334.4" x2="762.5" y2="319.2" stroke="#1a1a1a" stroke-width="7.5"/><line x1="596.0" y1="319.6" x2="737.5" y2="304.7" stroke="#1a1a1a" stroke-width="7.5"/><line x1="574.5" y1="304.7" x2="712.5" y2="290.2" stroke="#1a1a1a" stroke-width="7.5"/><line x1="553.0" y1="289.9" x2="687.5" y2="275.7" stroke="#1a1a1a" stroke-width="7.5"/><line x1="918.0" y1="396.0" x2="964.0" y2="391.0" stroke="#0a0a0a" stroke-width="15"/><line x1="974.0" y1="390.0" x2="1020.0" y2="385.0" stroke="#0a0a0a" stroke-width="15"/><line x1="1030.0" y1="384.0" x2="1076.0" y2="379.0" stroke="#0a0a0a" stroke-width="15"/><line x1="896.5" y1="381.4" x2="1059.0" y2="364.3" stroke="#1a1a1a" stroke-width="7.5"/><line x1="875.0" y1="366.8" x2="1034.0" y2="350.1" stroke="#1a1a1a" stroke-width="7.5"/><line x1="853.5" y1="352.2" x2="1009.0" y2="335.9" stroke="#1a1a1a" stroke-width="7.5"/><line x1="832.0" y1="337.6" x2="984.0" y2="321.6" stroke="#1a1a1a" stroke-width="7.5"/><line x1="810.5" y1="323.0" x2="959.0" y2="307.4" stroke="#1a1a1a" stroke-width="7.5"/><line x1="789.0" y1="308.4" x2="934.0" y2="293.2" stroke="#1a1a1a" stroke-width="7.5"/><line x1="767.5" y1="293.8" x2="909.0" y2="278.9" stroke="#1a1a1a" stroke-width="7.5"/><line x1="746.0" y1="279.2" x2="884.0" y2="264.7" stroke="#1a1a1a" stroke-width="7.5"/><line x1="724.5" y1="264.6" x2="859.0" y2="250.5" stroke="#1a1a1a" stroke-width="7.5"/><line x1="1089.5" y1="368.5" x2="1135.5" y2="363.5" stroke="#0a0a0a" stroke-width="15"/><line x1="1145.5" y1="362.5" x2="1191.5" y2="357.5" stroke="#0a0a0a" stroke-width="15"/><line x1="1201.5" y1="356.5" x2="1247.5" y2="351.5" stroke="#0a0a0a" stroke-width="15"/><line x1="1068.0" y1="354.1" x2="1230.5" y2="337.1" stroke="#1a1a1a" stroke-width="7.5"/><line x1="1046.5" y1="339.8" x2="1205.5" y2="323.1" stroke="#1a1a1a" stroke-width="7.5"/><line x1="1025.0" y1="325.4" x2="1180.5" y2="309.1" stroke="#1a1a1a" stroke-width="7.5"/><line x1="1003.5" y1="311.1" x2="1155.5" y2="295.1" stroke="#1a1a1a" stroke-width="7.5"/><line x1="982.0" y1="296.8" x2="1130.5" y2="281.2" stroke="#1a1a1a" stroke-width="7.5"/><line x1="960.5" y1="282.4" x2="1105.5" y2="267.2" stroke="#1a1a1a" stroke-width="7.5"/><line x1="939.0" y1="268.1" x2="1080.5" y2="253.2" stroke="#1a1a1a" stroke-width="7.5"/><line x1="917.5" y1="253.7" x2="1055.5" y2="239.2" stroke="#1a1a1a" stroke-width="7.5"/><line x1="896.0" y1="239.3" x2="1030.5" y2="225.2" stroke="#1a1a1a" stroke-width="7.5"/><line x1="1261.0" y1="341.0" x2="1307.0" y2="336.0" stroke="#0a0a0a" stroke-width="15"/><line x1="1317.0" y1="335.0" x2="1363.0" y2="330.0" stroke="#0a0a0a" stroke-width="15"/><line x1="1373.0" y1="329.0" x2="1419.0" y2="324.0" stroke="#0a0a0a" stroke-width="15"/><line x1="1239.5" y1="326.9" x2="1402.0" y2="309.8" stroke="#1a1a1a" stroke-width="7.5"/><line x1="1218.0" y1="312.8" x2="1377.0" y2="296.1" stroke="#1a1a1a" stroke-width="7.5"/><line x1="1196.5" y1="298.7" x2="1352.0" y2="282.4" stroke="#1a1a1a" stroke-width="7.5"/><line x1="1175.0" y1="284.6" x2="1327.0" y2="268.6" stroke="#1a1a1a" stroke-width="7.5"/><line x1="1153.5" y1="270.5" x2="1302.0" y2="254.9" stroke="#1a1a1a" stroke-width="7.5"/><line x1="1132.0" y1="256.4" x2="1277.0" y2="241.2" stroke="#1a1a1a" stroke-width="7.5"/><line x1="1110.5" y1="242.3" x2="1252.0" y2="227.4" stroke="#1a1a1a" stroke-width="7.5"/><line x1="1089.0" y1="228.2" x2="1227.0" y2="213.7" stroke="#1a1a1a" stroke-width="7.5"/><line x1="1067.5" y1="214.1" x2="1202.0" y2="200.0" stroke="#1a1a1a" stroke-width="7.5"/><line x1="1432.5" y1="313.5" x2="1478.5" y2="308.5" stroke="#0a0a0a" stroke-width="15"/><line x1="1488.5" y1="307.5" x2="1534.5" y2="302.5" stroke="#0a0a0a" stroke-width="15"/><line x1="1544.5" y1="301.5" x2="1590.5" y2="296.5" stroke="#0a0a0a" stroke-width="15"/><line x1="1411.0" y1="299.6" x2="1573.5" y2="282.6" stroke="#1a1a1a" stroke-width="7.5"/><line x1="1389.5" y1="285.8" x2="1548.5" y2="269.1" stroke="#1a1a1a" stroke-width="7.5"/><line x1="1368.0" y1="271.9" x2="1523.5" y2="255.6" stroke="#1a1a1a" stroke-width="7.5"/><line x1="1346.5" y1="258.1" x2="1498.5" y2="242.1" stroke="#1a1a1a" stroke-width="7.5"/><line x1="1325.0" y1="244.2" x2="1473.5" y2="228.7" stroke="#1a1a1a" stroke-width="7.5"/><line x1="1303.5" y1="230.4" x2="1448.5" y2="215.2" stroke="#1a1a1a" stroke-width="7.5"/><line x1="1282.0" y1="216.6" x2="1423.5" y2="201.7" stroke="#1a1a1a" stroke-width="7.5"/><line x1="1260.5" y1="202.7" x2="1398.5" y2="188.2" stroke="#1a1a1a" stroke-width="7.5"/><line x1="1239.0" y1="188.9" x2="1373.5" y2="174.7" stroke="#1a1a1a" stroke-width="7.5"/><line x1="1604.0" y1="286.0" x2="1650.0" y2="281.0" stroke="#0a0a0a" stroke-width="15"/><line x1="1660.0" y1="280.0" x2="1706.0" y2="275.0" stroke="#0a0a0a" stroke-width="15"/><line x1="1716.0" y1="274.0" x2="1762.0" y2="269.0" stroke="#0a0a0a" stroke-width="15"/><line x1="1582.5" y1="272.4" x2="1745.0" y2="255.3" stroke="#1a1a1a" stroke-width="7.5"/><line x1="1561.0" y1="258.8" x2="1720.0" y2="242.1" stroke="#1a1a1a" stroke-width="7.5"/><line x1="1539.5" y1="245.2" x2="1695.0" y2="228.9" stroke="#1a1a1a" stroke-width="7.5"/><line x1="1518.0" y1="231.6" x2="1670.0" y2="215.6" stroke="#1a1a1a" stroke-width="7.5"/><line x1="1496.5" y1="218.0" x2="1645.0" y2="202.4" stroke="#1a1a1a" stroke-width="7.5"/><line x1="1475.0" y1="204.4" x2="1620.0" y2="189.2" stroke="#1a1a1a" stroke-width="7.5"/><line x1="1453.5" y1="190.8" x2="1595.0" y2="175.9" stroke="#1a1a1a" stroke-width="7.5"/><line x1="1432.0" y1="177.2" x2="1570.0" y2="162.7" stroke="#1a1a1a" stroke-width="7.5"/><line x1="1410.5" y1="163.6" x2="1545.0" y2="149.5" stroke="#1a1a1a" stroke-width="7.5"/><polygon points="750.0,440.0 1975.0,300.0 1975.0,1372.0 750.0,1562.0" fill="#4a4a4c" stroke="#4a4a4c" stroke-width="3" stroke-linejoin="round" /><polygon points="1689.6,332.6 1975.0,300.0 1975.0,1372.0 1689.6,1416.3" fill="#525254" stroke="#525254" stroke-width="3" stroke-linejoin="round" /><polygon points="1689.6,332.6 1699.4,331.5 1699.4,1414.8 1689.6,1416.3" fill="#333335" stroke="#333335" stroke-width="3" stroke-linejoin="round" /><polygon points="1919.9,327.8 1928.5,326.8 1928.5,1357.7 1919.9,1359.1" fill="#2e2e30" stroke="#2e2e30" stroke-width="3" stroke-linejoin="round" /><polygon points="958.2,416.2 965.6,415.4 965.6,1083.3 958.2,1084.3" fill="#2c2c2e" stroke="#2c2c2e" stroke-width="3" stroke-linejoin="round" /><polygon points="786.8,486.2 897.0,473.4 897.0,495.7 786.8,508.6" fill="#b9b9b9" stroke="#b9b9b9" stroke-width="3" stroke-linejoin="round" /><circle cx="919.0" cy="537.8" r="10.0" fill="#0c0c0c"/><circle cx="919.0" cy="582.4" r="10.0" fill="#0c0c0c"/><circle cx="919.0" cy="627.0" r="10.0" fill="#0c0c0c"/><circle cx="884.8" cy="694.8" r="36.0" fill="#0c0c0c"/><circle cx="870.0" cy="687.7" r="13.0" fill="#d3d8b4"/><circle cx="884.8" cy="787.5" r="36.0" fill="#0c0c0c"/><circle cx="870.0" cy="780.4" r="13.0" fill="#d3d8b4"/><polygon points="860.2,863.2 931.3,854.0 931.3,943.1 860.2,952.6" fill="#0a0a0a" stroke="#a9a9a9" stroke-width="5" stroke-linejoin="round" /><polygon points="790.4,1037.0 946.0,1015.8 946.0,1203.0 790.4,1225.2" fill="#0a0a0a" stroke="#e6e6e6" stroke-width="10" stroke-linejoin="round" /><polygon points="784.3,1088.3 835.8,1081.2 835.8,1168.4 784.3,1175.7" fill="#4a4a4c" stroke="#4a4a4c" stroke-width="3" stroke-linejoin="round" /><polygon points="811.2,1056.6 872.5,1048.2 872.5,1092.8 811.2,1101.3" fill="#8f8f8f" stroke="#8f8f8f" stroke-width="3" stroke-linejoin="round" /><polygon points="790.4,1303.7 946.0,1281.0 946.0,1467.0 790.4,1490.7" fill="#0a0a0a" stroke="#e6e6e6" stroke-width="10" stroke-linejoin="round" /><polygon points="784.3,1355.0 835.8,1347.4 835.8,1433.5 784.3,1441.3" fill="#4a4a4c" stroke="#4a4a4c" stroke-width="3" stroke-linejoin="round" /><polygon points="811.2,1323.0 872.5,1314.0 872.5,1358.7 811.2,1367.8" fill="#8f8f8f" stroke="#8f8f8f" stroke-width="3" stroke-linejoin="round" /><polygon points="985.2,587.8 1117.5,571.8 1117.5,855.2 985.2,872.5" fill="#0c0c0c" stroke="#0c0c0c" stroke-width="3" stroke-linejoin="round" /><polygon points="1013.4,648.8 1111.4,636.8 1111.4,830.5 1013.4,843.3" fill="#1c1c1e" stroke="#1c1c1e" stroke-width="3" stroke-linejoin="round" /><polygon points="1022.0,464.5 1113.8,453.8 1113.8,584.4 1022.0,595.6" fill="#0c0c0c" stroke="#0c0c0c" stroke-width="3" stroke-linejoin="round" /><polygon points="1039.1,486.9 1078.3,482.3 1078.3,568.8 1039.1,573.5" fill="#efefef" stroke="#efefef" stroke-width="3" stroke-linejoin="round" /><polygon points="1039.1,523.5 1078.3,518.9 1078.3,530.0 1039.1,534.6" fill="#555" stroke="#555" stroke-width="3" stroke-linejoin="round" /><circle cx="1059.9" cy="906.0" r="30.0" fill="#0c0c0c"/><circle cx="1059.9" cy="906.0" r="14.0" fill="#3a3a3c"/><circle cx="1099.1" cy="992.7" r="10.0" fill="#0c0c0c"/><circle cx="1099.1" cy="1037.1" r="10.0" fill="#0c0c0c"/><polygon points="995.0,445.4 1068.5,436.9 1068.5,445.7 995.0,454.3" fill="#8a8a8a" stroke="#8a8a8a" stroke-width="3" stroke-linejoin="round" /><polygon points="1004.8,1091.2 1166.5,1068.7 1166.5,1273.1 1004.8,1296.8" fill="#2f9a4d" stroke="#2f9a4d" stroke-width="3" stroke-linejoin="round" /><polygon points="1024.4,1121.8 1096.7,1111.6 1096.7,1274.5 1024.4,1285.1" fill="#a2dcb2" stroke="#a2dcb2" stroke-width="3" stroke-linejoin="round" /><polygon points="1101.6,1110.9 1137.1,1105.9 1137.1,1268.6 1101.6,1273.8" fill="#eea12f" stroke="#eea12f" stroke-width="3" stroke-linejoin="round" /><circle cx="1039.1" cy="1136.4" r="5.0" fill="#2a7a3e"/><circle cx="1039.1" cy="1159.5" r="5.0" fill="#2a7a3e"/><circle cx="1039.1" cy="1182.6" r="5.0" fill="#2a7a3e"/><circle cx="1039.1" cy="1205.7" r="5.0" fill="#2a7a3e"/><circle cx="1039.1" cy="1228.9" r="5.0" fill="#2a7a3e"/><circle cx="1039.1" cy="1252.0" r="5.0" fill="#2a7a3e"/><polygon points="1004.8,1091.2 1166.5,1068.7 1166.5,1101.8 1004.8,1124.5" fill="#3bb45e" stroke="#3bb45e" stroke-width="3" stroke-linejoin="round" /><polygon points="1148.1,1104.4 1166.5,1101.8 1166.5,1273.1 1148.1,1275.8" fill="#237a3b" stroke="#237a3b" stroke-width="3" stroke-linejoin="round" /><polygon points="1004.8,1303.5 1166.5,1279.7 1166.5,1491.9 1004.8,1516.9" fill="#2f9a4d" stroke="#2f9a4d" stroke-width="3" stroke-linejoin="round" /><polygon points="1024.4,1333.9 1096.7,1323.2 1096.7,1493.8 1024.4,1505.0" fill="#a2dcb2" stroke="#a2dcb2" stroke-width="3" stroke-linejoin="round" /><polygon points="1101.6,1322.5 1137.1,1317.2 1137.1,1487.6 1101.6,1493.1" fill="#eea12f" stroke="#eea12f" stroke-width="3" stroke-linejoin="round" /><circle cx="1039.1" cy="1348.4" r="5.0" fill="#2a7a3e"/><circle cx="1039.1" cy="1372.8" r="5.0" fill="#2a7a3e"/><circle cx="1039.1" cy="1397.3" r="5.0" fill="#2a7a3e"/><circle cx="1039.1" cy="1421.7" r="5.0" fill="#2a7a3e"/><circle cx="1039.1" cy="1446.1" r="5.0" fill="#2a7a3e"/><circle cx="1039.1" cy="1470.5" r="5.0" fill="#2a7a3e"/><polygon points="1004.8,1303.5 1166.5,1279.7 1166.5,1312.9 1004.8,1336.8" fill="#3bb45e" stroke="#3bb45e" stroke-width="3" stroke-linejoin="round" /><polygon points="1148.1,1315.6 1166.5,1312.9 1166.5,1491.9 1148.1,1494.7" fill="#237a3b" stroke="#237a3b" stroke-width="3" stroke-linejoin="round" /><polygon points="1160.6,566.6 1292.9,550.6 1292.9,832.2 1160.6,849.5" fill="#0c0c0c" stroke="#0c0c0c" stroke-width="3" stroke-linejoin="round" /><polygon points="1188.8,627.2 1286.8,615.2 1286.8,807.7 1188.8,820.4" fill="#1c1c1e" stroke="#1c1c1e" stroke-width="3" stroke-linejoin="round" /><polygon points="1197.4,444.1 1289.2,433.4 1289.2,563.2 1197.4,574.3" fill="#0c0c0c" stroke="#0c0c0c" stroke-width="3" stroke-linejoin="round" /><polygon points="1214.5,466.3 1253.7,461.7 1253.7,547.6 1214.5,552.4" fill="#efefef" stroke="#efefef" stroke-width="3" stroke-linejoin="round" /><polygon points="1214.5,502.7 1253.7,498.1 1253.7,509.1 1214.5,513.8" fill="#555" stroke="#555" stroke-width="3" stroke-linejoin="round" /><circle cx="1235.3" cy="882.7" r="30.0" fill="#0c0c0c"/><circle cx="1235.3" cy="882.7" r="14.0" fill="#3a3a3c"/><circle cx="1274.5" cy="968.9" r="10.0" fill="#0c0c0c"/><circle cx="1274.5" cy="1012.9" r="10.0" fill="#0c0c0c"/><polygon points="1170.4,425.1 1243.9,416.6 1243.9,425.4 1170.4,433.9" fill="#8a8a8a" stroke="#8a8a8a" stroke-width="3" stroke-linejoin="round" /><polygon points="1183.2,1066.3 1344.9,1043.8 1344.9,1246.9 1183.2,1270.6" fill="#2f9a4d" stroke="#2f9a4d" stroke-width="3" stroke-linejoin="round" /><polygon points="1202.8,1096.7 1275.0,1086.6 1275.0,1248.3 1202.8,1258.9" fill="#a2dcb2" stroke="#a2dcb2" stroke-width="3" stroke-linejoin="round" /><polygon points="1279.9,1085.9 1315.5,1080.9 1315.5,1242.4 1279.9,1247.6" fill="#eea12f" stroke="#eea12f" stroke-width="3" stroke-linejoin="round" /><circle cx="1217.5" cy="1111.2" r="5.0" fill="#2a7a3e"/><circle cx="1217.5" cy="1134.2" r="5.0" fill="#2a7a3e"/><circle cx="1217.5" cy="1157.1" r="5.0" fill="#2a7a3e"/><circle cx="1217.5" cy="1180.1" r="5.0" fill="#2a7a3e"/><circle cx="1217.5" cy="1203.1" r="5.0" fill="#2a7a3e"/><circle cx="1217.5" cy="1226.1" r="5.0" fill="#2a7a3e"/><polygon points="1183.2,1066.3 1344.9,1043.8 1344.9,1076.8 1183.2,1099.5" fill="#3bb45e" stroke="#3bb45e" stroke-width="3" stroke-linejoin="round" /><polygon points="1326.5,1079.3 1344.9,1076.8 1344.9,1246.9 1326.5,1249.6" fill="#237a3b" stroke="#237a3b" stroke-width="3" stroke-linejoin="round" /><polygon points="1183.2,1277.3 1344.9,1253.5 1344.9,1464.2 1183.2,1489.3" fill="#2f9a4d" stroke="#2f9a4d" stroke-width="3" stroke-linejoin="round" /><polygon points="1202.8,1307.5 1275.0,1296.8 1275.0,1466.3 1202.8,1477.4" fill="#a2dcb2" stroke="#a2dcb2" stroke-width="3" stroke-linejoin="round" /><polygon points="1279.9,1296.0 1315.5,1290.8 1315.5,1460.0 1279.9,1465.5" fill="#eea12f" stroke="#eea12f" stroke-width="3" stroke-linejoin="round" /><circle cx="1217.5" cy="1321.9" r="5.0" fill="#2a7a3e"/><circle cx="1217.5" cy="1346.1" r="5.0" fill="#2a7a3e"/><circle cx="1217.5" cy="1370.4" r="5.0" fill="#2a7a3e"/><circle cx="1217.5" cy="1394.6" r="5.0" fill="#2a7a3e"/><circle cx="1217.5" cy="1418.9" r="5.0" fill="#2a7a3e"/><circle cx="1217.5" cy="1443.2" r="5.0" fill="#2a7a3e"/><polygon points="1183.2,1277.3 1344.9,1253.5 1344.9,1286.4 1183.2,1310.4" fill="#3bb45e" stroke="#3bb45e" stroke-width="3" stroke-linejoin="round" /><polygon points="1326.5,1289.1 1344.9,1286.4 1344.9,1464.2 1326.5,1467.1" fill="#237a3b" stroke="#237a3b" stroke-width="3" stroke-linejoin="round" /><polygon points="1336.0,545.4 1468.3,529.5 1468.3,809.2 1336.0,826.5" fill="#0c0c0c" stroke="#0c0c0c" stroke-width="3" stroke-linejoin="round" /><polygon points="1364.2,605.6 1462.2,593.6 1462.2,784.8 1364.2,797.6" fill="#1c1c1e" stroke="#1c1c1e" stroke-width="3" stroke-linejoin="round" /><polygon points="1372.8,423.7 1464.7,413.0 1464.7,541.9 1372.8,553.0" fill="#0c0c0c" stroke="#0c0c0c" stroke-width="3" stroke-linejoin="round" /><polygon points="1389.9,445.8 1429.1,441.2 1429.1,526.5 1389.9,531.2" fill="#efefef" stroke="#efefef" stroke-width="3" stroke-linejoin="round" /><polygon points="1389.9,481.9 1429.1,477.3 1429.1,488.2 1389.9,492.9" fill="#555" stroke="#555" stroke-width="3" stroke-linejoin="round" /><circle cx="1410.8" cy="859.4" r="30.0" fill="#0c0c0c"/><circle cx="1410.8" cy="859.4" r="14.0" fill="#3a3a3c"/><circle cx="1450.0" cy="945.0" r="10.0" fill="#0c0c0c"/><circle cx="1450.0" cy="988.7" r="10.0" fill="#0c0c0c"/><polygon points="1345.8,404.8 1419.3,396.3 1419.3,405.1 1345.8,413.6" fill="#8a8a8a" stroke="#8a8a8a" stroke-width="3" stroke-linejoin="round" /><polygon points="1361.5,1041.5 1523.2,1019.0 1523.2,1220.7 1361.5,1244.5" fill="#2f9a4d" stroke="#2f9a4d" stroke-width="3" stroke-linejoin="round" /><polygon points="1381.1,1071.7 1453.4,1061.5 1453.4,1222.2 1381.1,1232.8" fill="#a2dcb2" stroke="#a2dcb2" stroke-width="3" stroke-linejoin="round" /><polygon points="1458.3,1060.8 1493.8,1055.8 1493.8,1216.3 1458.3,1221.5" fill="#eea12f" stroke="#eea12f" stroke-width="3" stroke-linejoin="round" /><circle cx="1395.8" cy="1086.0" r="5.0" fill="#2a7a3e"/><circle cx="1395.8" cy="1108.9" r="5.0" fill="#2a7a3e"/><circle cx="1395.8" cy="1131.7" r="5.0" fill="#2a7a3e"/><circle cx="1395.8" cy="1154.5" r="5.0" fill="#2a7a3e"/><circle cx="1395.8" cy="1177.3" r="5.0" fill="#2a7a3e"/><circle cx="1395.8" cy="1200.2" r="5.0" fill="#2a7a3e"/><polygon points="1361.5,1041.5 1523.2,1019.0 1523.2,1051.7 1361.5,1074.4" fill="#3bb45e" stroke="#3bb45e" stroke-width="3" stroke-linejoin="round" /><polygon points="1504.8,1054.3 1523.2,1051.7 1523.2,1220.7 1504.8,1223.4" fill="#237a3b" stroke="#237a3b" stroke-width="3" stroke-linejoin="round" /><polygon points="1361.5,1251.0 1523.2,1227.3 1523.2,1436.6 1361.5,1461.7" fill="#2f9a4d" stroke="#2f9a4d" stroke-width="3" stroke-linejoin="round" /><polygon points="1381.1,1281.0 1453.4,1270.3 1453.4,1438.7 1381.1,1449.9" fill="#a2dcb2" stroke="#a2dcb2" stroke-width="3" stroke-linejoin="round" /><polygon points="1458.3,1269.6 1493.8,1264.3 1493.8,1432.4 1458.3,1437.9" fill="#eea12f" stroke="#eea12f" stroke-width="3" stroke-linejoin="round" /><circle cx="1395.8" cy="1295.3" r="5.0" fill="#2a7a3e"/><circle cx="1395.8" cy="1319.4" r="5.0" fill="#2a7a3e"/><circle cx="1395.8" cy="1343.5" r="5.0" fill="#2a7a3e"/><circle cx="1395.8" cy="1367.6" r="5.0" fill="#2a7a3e"/><circle cx="1395.8" cy="1391.7" r="5.0" fill="#2a7a3e"/><circle cx="1395.8" cy="1415.8" r="5.0" fill="#2a7a3e"/><polygon points="1361.5,1251.0 1523.2,1227.3 1523.2,1260.0 1361.5,1283.9" fill="#3bb45e" stroke="#3bb45e" stroke-width="3" stroke-linejoin="round" /><polygon points="1504.8,1262.7 1523.2,1260.0 1523.2,1436.6 1504.8,1439.5" fill="#237a3b" stroke="#237a3b" stroke-width="3" stroke-linejoin="round" /><polygon points="1511.5,524.3 1643.8,508.3 1643.8,786.2 1511.5,803.5" fill="#0c0c0c" stroke="#0c0c0c" stroke-width="3" stroke-linejoin="round" /><polygon points="1539.6,584.1 1637.6,572.0 1637.6,762.0 1539.6,774.8" fill="#1c1c1e" stroke="#1c1c1e" stroke-width="3" stroke-linejoin="round" /><polygon points="1548.2,403.2 1640.1,392.6 1640.1,520.7 1548.2,531.8" fill="#0c0c0c" stroke="#0c0c0c" stroke-width="3" stroke-linejoin="round" /><polygon points="1565.4,425.2 1604.6,420.6 1604.6,505.4 1565.4,510.1" fill="#efefef" stroke="#efefef" stroke-width="3" stroke-linejoin="round" /><polygon points="1565.4,461.1 1604.6,456.5 1604.6,467.4 1565.4,472.0" fill="#555" stroke="#555" stroke-width="3" stroke-linejoin="round" /><circle cx="1586.2" cy="836.2" r="30.0" fill="#0c0c0c"/><circle cx="1586.2" cy="836.2" r="14.0" fill="#3a3a3c"/><circle cx="1625.4" cy="921.1" r="10.0" fill="#0c0c0c"/><circle cx="1625.4" cy="964.6" r="10.0" fill="#0c0c0c"/><polygon points="1521.3,384.6 1594.8,376.1 1594.8,384.8 1521.3,393.3" fill="#8a8a8a" stroke="#8a8a8a" stroke-width="3" stroke-linejoin="round" /><polygon points="1539.9,1016.7 1701.6,994.1 1701.6,1194.5 1539.9,1218.3" fill="#2f9a4d" stroke="#2f9a4d" stroke-width="3" stroke-linejoin="round" /><polygon points="1559.5,1046.6 1631.8,1036.4 1631.8,1196.1 1559.5,1206.7" fill="#a2dcb2" stroke="#a2dcb2" stroke-width="3" stroke-linejoin="round" /><polygon points="1636.7,1035.8 1672.2,1030.8 1672.2,1190.2 1636.7,1195.4" fill="#eea12f" stroke="#eea12f" stroke-width="3" stroke-linejoin="round" /><circle cx="1574.2" cy="1060.9" r="5.0" fill="#2a7a3e"/><circle cx="1574.2" cy="1083.5" r="5.0" fill="#2a7a3e"/><circle cx="1574.2" cy="1106.2" r="5.0" fill="#2a7a3e"/><circle cx="1574.2" cy="1128.9" r="5.0" fill="#2a7a3e"/><circle cx="1574.2" cy="1151.6" r="5.0" fill="#2a7a3e"/><circle cx="1574.2" cy="1174.2" r="5.0" fill="#2a7a3e"/><polygon points="1539.9,1016.7 1701.6,994.1 1701.6,1026.6 1539.9,1049.4" fill="#3bb45e" stroke="#3bb45e" stroke-width="3" stroke-linejoin="round" /><polygon points="1683.2,1029.2 1701.6,1026.6 1701.6,1194.5 1683.2,1197.2" fill="#237a3b" stroke="#237a3b" stroke-width="3" stroke-linejoin="round" /><polygon points="1539.9,1224.8 1701.6,1201.0 1701.6,1409.0 1539.9,1434.0" fill="#2f9a4d" stroke="#2f9a4d" stroke-width="3" stroke-linejoin="round" /><polygon points="1559.5,1254.6 1631.8,1243.9 1631.8,1411.1 1559.5,1422.3" fill="#a2dcb2" stroke="#a2dcb2" stroke-width="3" stroke-linejoin="round" /><polygon points="1636.7,1243.1 1672.2,1237.9 1672.2,1404.9 1636.7,1410.4" fill="#eea12f" stroke="#eea12f" stroke-width="3" stroke-linejoin="round" /><circle cx="1574.2" cy="1268.7" r="5.0" fill="#2a7a3e"/><circle cx="1574.2" cy="1292.7" r="5.0" fill="#2a7a3e"/><circle cx="1574.2" cy="1316.6" r="5.0" fill="#2a7a3e"/><circle cx="1574.2" cy="1340.6" r="5.0" fill="#2a7a3e"/><circle cx="1574.2" cy="1364.5" r="5.0" fill="#2a7a3e"/><circle cx="1574.2" cy="1388.5" r="5.0" fill="#2a7a3e"/><polygon points="1539.9,1224.8 1701.6,1201.0 1701.6,1233.5 1539.9,1257.5" fill="#3bb45e" stroke="#3bb45e" stroke-width="3" stroke-linejoin="round" /><polygon points="1683.2,1236.2 1701.6,1233.5 1701.6,1409.0 1683.2,1411.8" fill="#237a3b" stroke="#237a3b" stroke-width="3" stroke-linejoin="round" /><circle cx="1867.2" cy="432.9" r="12.0" fill="#0c0c0c"/><circle cx="1867.2" cy="479.2" r="12.0" fill="#0c0c0c"/><polygon points="1717.8,600.0 1766.8,593.9 1766.8,691.2 1717.8,697.5" fill="#101010" stroke="#101010" stroke-width="3" stroke-linejoin="round" /><polygon points="1730.0,568.2 1891.7,548.3 1891.7,648.3 1730.0,668.8" fill="#ebe9e1" stroke="#bdb9a8" stroke-width="3" stroke-linejoin="round" /><polygon points="1803.5,584.0 1834.1,580.1 1834.1,630.8 1803.5,634.7" fill="#e9c68a" stroke="#e9c68a" stroke-width="3" stroke-linejoin="round" /><polygon points="1846.4,578.6 1877.0,574.8 1877.0,625.4 1846.4,629.3" fill="#e9c68a" stroke="#e9c68a" stroke-width="3" stroke-linejoin="round" /><polygon points="1748.4,726.0 1779.0,722.0 1779.0,808.4 1748.4,812.5" fill="#101010" stroke="#101010" stroke-width="3" stroke-linejoin="round" /><polygon points="1763.1,694.9 1891.7,678.4 1891.7,788.1 1763.1,805.1" fill="#ebe9e1" stroke="#bdb9a8" stroke-width="3" stroke-linejoin="round" /><polygon points="1749.6,975.6 1870.9,958.7 1870.9,1089.0 1749.6,1106.4" fill="#2f9a4d" stroke="#2f9a4d" stroke-width="3" stroke-linejoin="round" /><circle cx="1772.9" cy="998.3" r="11.0" fill="#7fd494"/><circle cx="1772.9" cy="1038.2" r="11.0" fill="#7fd494"/><circle cx="1772.9" cy="1077.1" r="11.0" fill="#7fd494"/><circle cx="1828.0" cy="990.5" r="11.0" fill="#7fd494"/><circle cx="1828.0" cy="1030.4" r="11.0" fill="#7fd494"/><circle cx="1828.0" cy="1069.2" r="11.0" fill="#7fd494"/></g>
<g transform="translate(930.10,1894.80) scale(0.07937)"><polygon points="470,588 780,345 1270,420 1292,500 1040,708" fill="#6b6b6b" stroke="#6b6b6b" stroke-width="3" stroke-linejoin="round" /><polygon points="640,455 780,345 1270,420 1150,525" fill="#9b9b9b" stroke="#9b9b9b" stroke-width="3" stroke-linejoin="round" /><polygon points="1150,525 1270,420 1292,500 1225,560" fill="#4a4a4a" stroke="#4a4a4a" stroke-width="3" stroke-linejoin="round" /><polygon points="1040,705 1292,500 1400,572 1400,610 1040,735" fill="#a3a3a3" stroke="#a3a3a3" stroke-width="3" stroke-linejoin="round" /><polygon points="1040,720 1400,570 1400,1082 1040,1492" fill="#4b4b4b" stroke="#4b4b4b" stroke-width="3" stroke-linejoin="round" /><polygon points="1100,755 1255,690 1255,1250 1100,1410" fill="#3b3b3b" stroke="#3b3b3b" stroke-width="3" stroke-linejoin="round" /><polygon points="1255,655 1400,585 1400,1082 1255,1250" fill="#5f5f5f" stroke="#5f5f5f" stroke-width="3" stroke-linejoin="round" /><polygon points="1040,712 1100,690 1100,1425 1040,1492" fill="#b5b5b5" stroke="#b5b5b5" stroke-width="3" stroke-linejoin="round" /><polygon points="1225,560 1292,500 1400,572 1255,650" fill="#7a7a7a" stroke="#7a7a7a" stroke-width="3" stroke-linejoin="round" /><path d="M265,640 Q265,598 305,603 L1005,712 Q1042,718 1042,760 L1042,1450 Q1042,1495 1000,1486 L300,1368 Q265,1362 265,1322 Z" fill="url(#gFlange)" stroke="#a8a8a8" stroke-width="5"/><polygon points="300,600 470,585 1040,703 1040,725" fill="#d9d9d9" stroke="#d9d9d9" stroke-width="3" stroke-linejoin="round" /><ellipse cx="640.0" cy="1052.0" rx="250.0" ry="262.0" fill="#a9a7a1" stroke="#8a8884" stroke-width="6" transform="rotate(-8 640 1052)"/><ellipse cx="628.0" cy="1040.0" rx="98.0" ry="84.0" fill="#7a7874" /><line x1="620" y1="1050" x2="510" y2="1175" stroke="#8f8d89" stroke-width="96" stroke-linecap="round"/><circle cx="505.0" cy="1180.0" r="50.0" fill="#d3d1cd" stroke="#9a9894" stroke-width="4"/><circle cx="503.0" cy="1183.0" r="14.0" fill="#1e1e1e"/><circle cx="315.0" cy="680.0" r="30.0" fill="#4a4a4a" stroke="#2e2e2e" stroke-width="5"/><circle cx="970.0" cy="770.0" r="30.0" fill="#4a4a4a" stroke="#2e2e2e" stroke-width="5"/><circle cx="325.0" cy="1355.0" r="30.0" fill="#4a4a4a" stroke="#2e2e2e" stroke-width="5"/><circle cx="970.0" cy="1450.0" r="30.0" fill="#4a4a4a" stroke="#2e2e2e" stroke-width="5"/></g>
<g transform="translate(1038.70,1894.80) scale(0.07937)"><polygon points="470,588 780,345 1270,420 1292,500 1040,708" fill="#6b6b6b" stroke="#6b6b6b" stroke-width="3" stroke-linejoin="round" /><polygon points="640,455 780,345 1270,420 1150,525" fill="#9b9b9b" stroke="#9b9b9b" stroke-width="3" stroke-linejoin="round" /><polygon points="1150,525 1270,420 1292,500 1225,560" fill="#4a4a4a" stroke="#4a4a4a" stroke-width="3" stroke-linejoin="round" /><polygon points="1040,705 1292,500 1400,572 1400,610 1040,735" fill="#a3a3a3" stroke="#a3a3a3" stroke-width="3" stroke-linejoin="round" /><polygon points="1040,720 1400,570 1400,1082 1040,1492" fill="#4b4b4b" stroke="#4b4b4b" stroke-width="3" stroke-linejoin="round" /><polygon points="1100,755 1255,690 1255,1250 1100,1410" fill="#3b3b3b" stroke="#3b3b3b" stroke-width="3" stroke-linejoin="round" /><polygon points="1255,655 1400,585 1400,1082 1255,1250" fill="#5f5f5f" stroke="#5f5f5f" stroke-width="3" stroke-linejoin="round" /><polygon points="1040,712 1100,690 1100,1425 1040,1492" fill="#b5b5b5" stroke="#b5b5b5" stroke-width="3" stroke-linejoin="round" /><polygon points="1225,560 1292,500 1400,572 1255,650" fill="#7a7a7a" stroke="#7a7a7a" stroke-width="3" stroke-linejoin="round" /><path d="M265,640 Q265,598 305,603 L1005,712 Q1042,718 1042,760 L1042,1450 Q1042,1495 1000,1486 L300,1368 Q265,1362 265,1322 Z" fill="url(#gFlange)" stroke="#a8a8a8" stroke-width="5"/><polygon points="300,600 470,585 1040,703 1040,725" fill="#d9d9d9" stroke="#d9d9d9" stroke-width="3" stroke-linejoin="round" /><ellipse cx="640.0" cy="1052.0" rx="250.0" ry="262.0" fill="#a9a7a1" stroke="#8a8884" stroke-width="6" transform="rotate(-8 640 1052)"/><ellipse cx="628.0" cy="1040.0" rx="98.0" ry="84.0" fill="#7a7874" /><line x1="620" y1="1050" x2="510" y2="1175" stroke="#8f8d89" stroke-width="96" stroke-linecap="round"/><circle cx="505.0" cy="1180.0" r="50.0" fill="#d3d1cd" stroke="#9a9894" stroke-width="4"/><circle cx="503.0" cy="1183.0" r="14.0" fill="#1e1e1e"/><circle cx="315.0" cy="680.0" r="30.0" fill="#4a4a4a" stroke="#2e2e2e" stroke-width="5"/><circle cx="970.0" cy="770.0" r="30.0" fill="#4a4a4a" stroke="#2e2e2e" stroke-width="5"/><circle cx="325.0" cy="1355.0" r="30.0" fill="#4a4a4a" stroke="#2e2e2e" stroke-width="5"/><circle cx="970.0" cy="1450.0" r="30.0" fill="#4a4a4a" stroke="#2e2e2e" stroke-width="5"/></g>
<g transform="translate(1147.30,1894.80) scale(0.07937)"><polygon points="470,588 780,345 1270,420 1292,500 1040,708" fill="#6b6b6b" stroke="#6b6b6b" stroke-width="3" stroke-linejoin="round" /><polygon points="640,455 780,345 1270,420 1150,525" fill="#9b9b9b" stroke="#9b9b9b" stroke-width="3" stroke-linejoin="round" /><polygon points="1150,525 1270,420 1292,500 1225,560" fill="#4a4a4a" stroke="#4a4a4a" stroke-width="3" stroke-linejoin="round" /><polygon points="1040,705 1292,500 1400,572 1400,610 1040,735" fill="#a3a3a3" stroke="#a3a3a3" stroke-width="3" stroke-linejoin="round" /><polygon points="1040,720 1400,570 1400,1082 1040,1492" fill="#4b4b4b" stroke="#4b4b4b" stroke-width="3" stroke-linejoin="round" /><polygon points="1100,755 1255,690 1255,1250 1100,1410" fill="#3b3b3b" stroke="#3b3b3b" stroke-width="3" stroke-linejoin="round" /><polygon points="1255,655 1400,585 1400,1082 1255,1250" fill="#5f5f5f" stroke="#5f5f5f" stroke-width="3" stroke-linejoin="round" /><polygon points="1040,712 1100,690 1100,1425 1040,1492" fill="#b5b5b5" stroke="#b5b5b5" stroke-width="3" stroke-linejoin="round" /><polygon points="1225,560 1292,500 1400,572 1255,650" fill="#7a7a7a" stroke="#7a7a7a" stroke-width="3" stroke-linejoin="round" /><path d="M265,640 Q265,598 305,603 L1005,712 Q1042,718 1042,760 L1042,1450 Q1042,1495 1000,1486 L300,1368 Q265,1362 265,1322 Z" fill="url(#gFlange)" stroke="#a8a8a8" stroke-width="5"/><polygon points="300,600 470,585 1040,703 1040,725" fill="#d9d9d9" stroke="#d9d9d9" stroke-width="3" stroke-linejoin="round" /><ellipse cx="640.0" cy="1052.0" rx="250.0" ry="262.0" fill="#a9a7a1" stroke="#8a8884" stroke-width="6" transform="rotate(-8 640 1052)"/><ellipse cx="628.0" cy="1040.0" rx="98.0" ry="84.0" fill="#7a7874" /><line x1="620" y1="1050" x2="510" y2="1175" stroke="#8f8d89" stroke-width="96" stroke-linecap="round"/><circle cx="505.0" cy="1180.0" r="50.0" fill="#d3d1cd" stroke="#9a9894" stroke-width="4"/><circle cx="503.0" cy="1183.0" r="14.0" fill="#1e1e1e"/><circle cx="315.0" cy="680.0" r="30.0" fill="#4a4a4a" stroke="#2e2e2e" stroke-width="5"/><circle cx="970.0" cy="770.0" r="30.0" fill="#4a4a4a" stroke="#2e2e2e" stroke-width="5"/><circle cx="325.0" cy="1355.0" r="30.0" fill="#4a4a4a" stroke="#2e2e2e" stroke-width="5"/><circle cx="970.0" cy="1450.0" r="30.0" fill="#4a4a4a" stroke="#2e2e2e" stroke-width="5"/></g>
<g transform="translate(1255.90,1894.80) scale(0.07937)"><polygon points="470,588 780,345 1270,420 1292,500 1040,708" fill="#6b6b6b" stroke="#6b6b6b" stroke-width="3" stroke-linejoin="round" /><polygon points="640,455 780,345 1270,420 1150,525" fill="#9b9b9b" stroke="#9b9b9b" stroke-width="3" stroke-linejoin="round" /><polygon points="1150,525 1270,420 1292,500 1225,560" fill="#4a4a4a" stroke="#4a4a4a" stroke-width="3" stroke-linejoin="round" /><polygon points="1040,705 1292,500 1400,572 1400,610 1040,735" fill="#a3a3a3" stroke="#a3a3a3" stroke-width="3" stroke-linejoin="round" /><polygon points="1040,720 1400,570 1400,1082 1040,1492" fill="#4b4b4b" stroke="#4b4b4b" stroke-width="3" stroke-linejoin="round" /><polygon points="1100,755 1255,690 1255,1250 1100,1410" fill="#3b3b3b" stroke="#3b3b3b" stroke-width="3" stroke-linejoin="round" /><polygon points="1255,655 1400,585 1400,1082 1255,1250" fill="#5f5f5f" stroke="#5f5f5f" stroke-width="3" stroke-linejoin="round" /><polygon points="1040,712 1100,690 1100,1425 1040,1492" fill="#b5b5b5" stroke="#b5b5b5" stroke-width="3" stroke-linejoin="round" /><polygon points="1225,560 1292,500 1400,572 1255,650" fill="#7a7a7a" stroke="#7a7a7a" stroke-width="3" stroke-linejoin="round" /><path d="M265,640 Q265,598 305,603 L1005,712 Q1042,718 1042,760 L1042,1450 Q1042,1495 1000,1486 L300,1368 Q265,1362 265,1322 Z" fill="url(#gFlange)" stroke="#a8a8a8" stroke-width="5"/><polygon points="300,600 470,585 1040,703 1040,725" fill="#d9d9d9" stroke="#d9d9d9" stroke-width="3" stroke-linejoin="round" /><ellipse cx="640.0" cy="1052.0" rx="250.0" ry="262.0" fill="#a9a7a1" stroke="#8a8884" stroke-width="6" transform="rotate(-8 640 1052)"/><ellipse cx="628.0" cy="1040.0" rx="98.0" ry="84.0" fill="#7a7874" /><line x1="620" y1="1050" x2="510" y2="1175" stroke="#8f8d89" stroke-width="96" stroke-linecap="round"/><circle cx="505.0" cy="1180.0" r="50.0" fill="#d3d1cd" stroke="#9a9894" stroke-width="4"/><circle cx="503.0" cy="1183.0" r="14.0" fill="#1e1e1e"/><circle cx="315.0" cy="680.0" r="30.0" fill="#4a4a4a" stroke="#2e2e2e" stroke-width="5"/><circle cx="970.0" cy="770.0" r="30.0" fill="#4a4a4a" stroke="#2e2e2e" stroke-width="5"/><circle cx="325.0" cy="1355.0" r="30.0" fill="#4a4a4a" stroke="#2e2e2e" stroke-width="5"/><circle cx="970.0" cy="1450.0" r="30.0" fill="#4a4a4a" stroke="#2e2e2e" stroke-width="5"/></g>
<g transform="translate(1657.80,1523.10) scale(0.14734,0.15191)"><polygon points="130,375 500,122 867,165 872,250 495,440" fill="#212123" stroke="#212123" stroke-width="3" stroke-linejoin="round" /><polygon points="764,150 802,128 878,140 876,195 847,222 772,210" fill="#bcbcbc" stroke="#bcbcbc" stroke-width="3" stroke-linejoin="round" /><circle cx="830.0" cy="178.0" r="15.0" fill="#4a4a4a"/><circle cx="830.0" cy="178.0" r="8.0" fill="#e8e8e8"/><line x1="250" y1="335" x2="420" y2="365" stroke="#3c3c3e" stroke-width="9"/><line x1="277" y1="317" x2="447" y2="347" stroke="#3c3c3e" stroke-width="9"/><line x1="304" y1="299" x2="474" y2="329" stroke="#3c3c3e" stroke-width="9"/><line x1="331" y1="281" x2="501" y2="311" stroke="#3c3c3e" stroke-width="9"/><line x1="358" y1="263" x2="528" y2="293" stroke="#3c3c3e" stroke-width="9"/><line x1="385" y1="245" x2="555" y2="275" stroke="#3c3c3e" stroke-width="9"/><line x1="412" y1="227" x2="582" y2="257" stroke="#3c3c3e" stroke-width="9"/><line x1="439" y1="209" x2="609" y2="239" stroke="#3c3c3e" stroke-width="9"/><line x1="466" y1="191" x2="636" y2="221" stroke="#3c3c3e" stroke-width="9"/><line x1="493" y1="173" x2="663" y2="203" stroke="#3c3c3e" stroke-width="9"/><line x1="520" y1="155" x2="690" y2="185" stroke="#3c3c3e" stroke-width="9"/><line x1="560" y1="330" x2="635" y2="342" stroke="#3c3c3e" stroke-width="8"/><line x1="586" y1="313" x2="661" y2="325" stroke="#3c3c3e" stroke-width="8"/><line x1="612" y1="296" x2="687" y2="308" stroke="#3c3c3e" stroke-width="8"/><line x1="638" y1="279" x2="713" y2="291" stroke="#3c3c3e" stroke-width="8"/><line x1="664" y1="262" x2="739" y2="274" stroke="#3c3c3e" stroke-width="8"/><line x1="690" y1="245" x2="765" y2="257" stroke="#3c3c3e" stroke-width="8"/><line x1="716" y1="228" x2="791" y2="240" stroke="#3c3c3e" stroke-width="8"/><line x1="742" y1="211" x2="817" y2="223" stroke="#3c3c3e" stroke-width="8"/><line x1="768" y1="194" x2="843" y2="206" stroke="#3c3c3e" stroke-width="8"/><line x1="794" y1="177" x2="869" y2="189" stroke="#3c3c3e" stroke-width="8"/><polygon points="495.0,440.0 872.0,250.0 872.0,1330.0 495.0,1655.0" fill="#323234" stroke="#323234" stroke-width="3" stroke-linejoin="round" /><polygon points="524.0,612.1 697.8,514.8 697.8,886.1 524.0,1003.6" fill="#adadad" stroke="#adadad" stroke-width="3" stroke-linejoin="round" /><polygon points="540.2,645.0 683.5,563.0 683.5,597.5 540.2,680.9" fill="#5c5c5c" stroke="#5c5c5c" stroke-width="3" stroke-linejoin="round" /><polygon points="540.2,716.9 683.5,631.9 683.5,689.2 540.2,776.8" fill="#858585" stroke="#858585" stroke-width="3" stroke-linejoin="round" /><polygon points="570.4,853.4 653.3,800.4 653.3,846.7 570.4,901.0" fill="#6c6c6c" stroke="#6c6c6c" stroke-width="3" stroke-linejoin="round" /><polygon points="524.0,1051.8 706.1,926.1 706.1,1290.7 524.0,1437.2" fill="#9c9c9c" stroke="#9c9c9c" stroke-width="3" stroke-linejoin="round" /><polygon points="536.5,1079.2 694.8,968.2 694.8,1002.5 536.5,1115.2" fill="#6e6e6e" stroke="#6e6e6e" stroke-width="3" stroke-linejoin="round" /><polygon points="536.5,1175.2 694.8,1059.7 694.8,1208.3 536.5,1331.2" fill="#8c8c8c" stroke="#8c8c8c" stroke-width="3" stroke-linejoin="round" /><polygon points="804.1,416.7 826.0,404.8 826.0,635.0 804.1,648.6" fill="#0c0c0c" stroke="#0c0c0c" stroke-width="3" stroke-linejoin="round" /><polygon points="804.1,725.9 826.0,711.8 826.0,953.0 804.1,968.9" fill="#0c0c0c" stroke="#0c0c0c" stroke-width="3" stroke-linejoin="round" /><polygon points="804.1,1029.6 826.0,1013.3 826.0,1221.6 804.1,1239.4" fill="#0c0c0c" stroke="#0c0c0c" stroke-width="3" stroke-linejoin="round" /><g transform="translate(130,375) skewY(10.82) scale(1.0735,1)"><rect x="0.0" y="0.0" width="340.0" height="1212.0" fill="#2c2c2e" /><rect x="20.0" y="22.0" width="150.0" height="12.0" fill="#c8c8c8" /><rect x="215.0" y="30.0" width="85.0" height="10.0" fill="#a0a0a0" /><rect x="55.0" y="112.0" width="105.0" height="233.0" fill="#3f9b4b" /><rect x="12.0" y="130.0" width="50.0" height="220.0" fill="#ea7f1c" /><rect x="40.0" y="215.0" width="45.0" height="105.0" fill="#3a68c4" /><polygon points="20,112 120,112 95,160 40,160" fill="#ea7f1c" stroke="#ea7f1c" stroke-width="3" stroke-linejoin="round" /><rect x="35.0" y="360.0" width="145.0" height="70.0" fill="#161616" rx="18" /><polygon points="38,362 85,362 62,395" fill="#ea7f1c" stroke="#ea7f1c" stroke-width="3" stroke-linejoin="round" /><rect x="80.0" y="378.0" width="85.0" height="40.0" fill="#3c3c3c" rx="10" /><circle cx="255.0" cy="196.0" r="26.0" fill="#111"/><circle cx="255.0" cy="268.0" r="26.0" fill="#111"/><circle cx="258.0" cy="328.0" r="20.0" fill="#1e1e1e" stroke="#777" stroke-width="5"/><rect x="290.0" y="100.0" width="22.0" height="60.0" fill="#111" /><rect x="245.0" y="380.0" width="40.0" height="70.0" fill="#222" stroke="#888" stroke-width="4" /><rect x="65.0" y="522.0" width="95.0" height="263.0" fill="#121212" /><rect x="185.0" y="488.0" width="102.0" height="234.0" fill="#d4d4d4" /><rect x="197.0" y="505.0" width="78.0" height="90.0" fill="#0c0c0c" /><rect x="197.0" y="612.0" width="78.0" height="93.0" fill="#0c0c0c" /><rect x="215.0" y="500.0" width="42.0" height="20.0" fill="#9c9c9c" /><rect x="215.0" y="607.0" width="42.0" height="20.0" fill="#9c9c9c" /><rect x="150.0" y="812.0" width="140.0" height="330.0" fill="#3f9b4b" /><rect x="150.0" y="830.0" width="28.0" height="312.0" fill="#e8832a" /><rect x="190.0" y="838.0" width="50.0" height="12.0" fill="#7fd08c" /><rect x="190.0" y="862.5" width="50.0" height="12.0" fill="#7fd08c" /><rect x="190.0" y="887.0" width="50.0" height="12.0" fill="#7fd08c" /><rect x="190.0" y="911.5" width="50.0" height="12.0" fill="#7fd08c" /><rect x="190.0" y="936.0" width="50.0" height="12.0" fill="#7fd08c" /><rect x="190.0" y="960.5" width="50.0" height="12.0" fill="#7fd08c" /><rect x="190.0" y="985.0" width="50.0" height="12.0" fill="#7fd08c" /><rect x="190.0" y="1009.5" width="50.0" height="12.0" fill="#7fd08c" /><rect x="190.0" y="1034.0" width="50.0" height="12.0" fill="#7fd08c" /><rect x="190.0" y="1058.5" width="50.0" height="12.0" fill="#7fd08c" /><rect x="190.0" y="1083.0" width="50.0" height="12.0" fill="#7fd08c" /><rect x="190.0" y="1107.5" width="50.0" height="12.0" fill="#7fd08c" /><rect x="200.0" y="790.0" width="85.0" height="25.0" fill="#1c1c1c" /><rect x="20.0" y="905.0" width="120.0" height="225.0" fill="#0e0e0e" /><rect x="85.0" y="925.0" width="40.0" height="25.0" fill="#2b2b2b" /><rect x="85.0" y="965.0" width="40.0" height="25.0" fill="#2b2b2b" /><rect x="85.0" y="1005.0" width="40.0" height="25.0" fill="#2b2b2b" /><rect x="85.0" y="1045.0" width="40.0" height="25.0" fill="#2b2b2b" /><rect x="85.0" y="1085.0" width="40.0" height="25.0" fill="#2b2b2b" /><rect x="20.0" y="855.0" width="100.0" height="45.0" fill="#777" /><rect x="20.0" y="1150.0" width="115.0" height="42.0" fill="#cfcfcf" /></g></g>
<g transform="translate(1612.90,1914.80) scale(0.10121)"><polygon points="1040,850 1710,790 1712,1130 1640,1205 1400,1255 1100,1195 1042,1125" fill="#3a3a38" stroke="#3a3a38" stroke-width="3" stroke-linejoin="round" /><polygon points="1045,962 1400,1000 1400,1152 1050,1108" fill="#babcb2" stroke="#babcb2" stroke-width="3" stroke-linejoin="round" /><polygon points="1400,1000 1706,935 1708,1085 1400,1152" fill="#8e908a" stroke="#8e908a" stroke-width="3" stroke-linejoin="round" /><polygon points="1380,985 1420,985 1420,1160 1380,1160" fill="#6c6e68" stroke="#6c6e68" stroke-width="3" stroke-linejoin="round" /><polygon points="160,600 1100,825 1092,962 172,722" fill="url(#gBaseL)" stroke="url(#gBaseL)" stroke-width="3" stroke-linejoin="round" /><polygon points="1100,825 1865,545 1862,648 1092,962" fill="#262627" stroke="#262627" stroke-width="3" stroke-linejoin="round" /><path d="M160,608 L215,570 L330,520 Q420,330 1015,300 Q1600,300 1700,430 L1760,400 L1762,470 L1865,520 L1866,560 L1100,838 Z" fill="#47494a"/><polygon points="1640,380 1745,385 1760,470 1690,460" fill="#222" stroke="#222" stroke-width="3" stroke-linejoin="round" /><ellipse cx="250.0" cy="606.0" rx="42.0" ry="17.0" fill="#1a1a1a" /><ellipse cx="1768.0" cy="533.0" rx="40.0" ry="16.0" fill="#1a1a1a" /><ellipse cx="1015.0" cy="500.0" rx="690.0" ry="245.0" fill="#2b2c2d" /><ellipse cx="1015.0" cy="470.0" rx="690.0" ry="235.0" fill="#57595a" /><ellipse cx="1015.0" cy="462.0" rx="600.0" ry="195.0" fill="#1d1d1e" /><path d="M450,345 V470 A565,180 0 0 0 1580,470 V345 Z" fill="url(#gRingSide)"/><ellipse cx="1015.0" cy="345.0" rx="565.0" ry="178.0" fill="url(#gRingTop)" stroke="#9c9d9e" stroke-width="7" /><ellipse cx="1012.0" cy="362.0" rx="462.0" ry="143.0" fill="#303132" stroke="#77787a" stroke-width="5" /><ellipse cx="1012.0" cy="372.0" rx="440.0" ry="132.0" fill="#4a4b4c" /><ellipse cx="1010.0" cy="381.0" rx="342.0" ry="121.0" fill="#8e8f8c" /><ellipse cx="1010.0" cy="385.0" rx="322.0" ry="113.0" fill="url(#gHole)" /><circle cx="1515.8" cy="378.3" r="8.0" fill="#1a1a1a"/><circle cx="1330.2" cy="471.1" r="8.0" fill="#1a1a1a"/><circle cx="997.1" cy="504.9" r="8.0" fill="#1a1a1a"/><circle cx="672.4" cy="463.9" r="8.0" fill="#1a1a1a"/><circle cx="508.0" cy="367.3" r="8.0" fill="#1a1a1a"/><circle cx="580.8" cy="260.2" r="8.0" fill="#1a1a1a"/><circle cx="856.8" cy="192.8" r="8.0" fill="#1a1a1a"/><circle cx="1206.8" cy="196.7" r="8.0" fill="#1a1a1a"/><circle cx="1467.1" cy="269.9" r="8.0" fill="#1a1a1a"/></g>
<g transform="translate(1970.00,1600.00) scale(0.10770)"><polygon points="222,390 530,165 940,215 615,440" fill="#3d3e40" stroke="#3d3e40" stroke-width="3" stroke-linejoin="round" /><line x1="300" y1="362" x2="450" y2="382" stroke="#1b1b1c" stroke-width="10"/><line x1="334" y1="338" x2="484" y2="358" stroke="#1b1b1c" stroke-width="10"/><line x1="368" y1="314" x2="518" y2="334" stroke="#1b1b1c" stroke-width="10"/><line x1="402" y1="290" x2="552" y2="310" stroke="#1b1b1c" stroke-width="10"/><line x1="436" y1="266" x2="586" y2="286" stroke="#1b1b1c" stroke-width="10"/><line x1="470" y1="242" x2="620" y2="262" stroke="#1b1b1c" stroke-width="10"/><line x1="504" y1="218" x2="654" y2="238" stroke="#1b1b1c" stroke-width="10"/><polygon points="515,355 700,215 895,240 725,388" fill="#141415" stroke="#141415" stroke-width="3" stroke-linejoin="round" /><polygon points="640,300 720,240 800,250 720,312" fill="#5a5a5c" stroke="#5a5a5c" stroke-width="3" stroke-linejoin="round" /><polygon points="615,440 940,215 950,1232 610,1642" fill="#35363a" stroke="#35363a" stroke-width="3" stroke-linejoin="round" /><polygon points="905,390 958,352 960,520 905,560" fill="#1b1b1d" stroke="#1b1b1d" stroke-width="3" stroke-linejoin="round" /><polygon points="905,1010 960,965 962,1130 905,1180" fill="#1b1b1d" stroke="#1b1b1d" stroke-width="3" stroke-linejoin="round" /><polygon points="695,740 885,615 885,1090 720,1232" fill="#dddddd" stroke="#dddddd" stroke-width="3" stroke-linejoin="round" /><polygon points="740,800 850,728 850,760 740,832" fill="#9a9a9a" stroke="#9a9a9a" stroke-width="3" stroke-linejoin="round" /><polygon points="222,390 615,440 610,1642 230,1562" fill="#4a4b4e" stroke="#4a4b4e" stroke-width="3" stroke-linejoin="round" /><rect x="300.0" y="590.0" width="132.0" height="202.0" fill="#0f0f10" stroke="#bdbdbd" stroke-width="10" rx="40" /><rect x="335.0" y="640.0" width="65.0" height="105.0" fill="#2a2a2b" rx="12" /><rect x="300.0" y="850.0" width="170.0" height="142.0" fill="#0e0e0f" /><circle cx="500.0" cy="645.0" r="40.0" fill="#0e0e0f"/><circle cx="500.0" cy="735.0" r="40.0" fill="#0e0e0f"/><circle cx="300.0" cy="500.0" r="16.0" fill="#0e0e0f"/><circle cx="300.0" cy="545.0" r="16.0" fill="#0e0e0f"/><rect x="480.0" y="500.0" width="40.0" height="70.0" fill="#151516" /><rect x="505.0" y="805.0" width="67.0" height="95.0" fill="#0c0c0c" stroke="#bbbbbb" stroke-width="6" /><polygon points="330,1070 545,1102 545,1602 330,1562" fill="#3d9a4a" stroke="#3d9a4a" stroke-width="3" stroke-linejoin="round" /><polygon points="335,1090 368,1095 368,1568 335,1562" fill="#e98a2b" stroke="#e98a2b" stroke-width="3" stroke-linejoin="round" /><polygon points="432,1105 466,1110 466,1588 432,1582" fill="#e98a2b" stroke="#e98a2b" stroke-width="3" stroke-linejoin="round" /><rect x="375.0" y="1120.0" width="50.0" height="18.0" fill="#7fd08c" /><rect x="375.0" y="1161.0" width="50.0" height="18.0" fill="#7fd08c" /><rect x="375.0" y="1202.0" width="50.0" height="18.0" fill="#7fd08c" /><rect x="375.0" y="1243.0" width="50.0" height="18.0" fill="#7fd08c" /><rect x="375.0" y="1284.0" width="50.0" height="18.0" fill="#7fd08c" /><rect x="375.0" y="1325.0" width="50.0" height="18.0" fill="#7fd08c" /><rect x="375.0" y="1366.0" width="50.0" height="18.0" fill="#7fd08c" /><rect x="375.0" y="1407.0" width="50.0" height="18.0" fill="#7fd08c" /><rect x="375.0" y="1448.0" width="50.0" height="18.0" fill="#7fd08c" /><rect x="375.0" y="1489.0" width="50.0" height="18.0" fill="#7fd08c" /><rect x="375.0" y="1530.0" width="50.0" height="18.0" fill="#7fd08c" /><polygon points="215,1242 330,1228 330,1562 215,1542" fill="#36b050" stroke="#36b050" stroke-width="3" stroke-linejoin="round" /><rect x="225.0" y="1290.0" width="75.0" height="22.0" fill="#1d7f38" /><rect x="225.0" y="1338.0" width="75.0" height="22.0" fill="#1d7f38" /><rect x="225.0" y="1386.0" width="75.0" height="22.0" fill="#1d7f38" /><rect x="225.0" y="1434.0" width="75.0" height="22.0" fill="#1d7f38" /><rect x="225.0" y="1482.0" width="75.0" height="22.0" fill="#1d7f38" /><polygon points="405,1020 560,1040 560,1075 405,1055" fill="#111" stroke="#111" stroke-width="3" stroke-linejoin="round" /></g>
<g transform="translate(1880.00,1880.00) scale(0.14939)"><polygon points="1690,195 1795,115 1925,180 1932,300 1800,425 1690,335" fill="#383838" stroke="#383838" stroke-width="3" stroke-linejoin="round" /><polygon points="1745,155 1795,116 1925,180 1885,225" fill="#7d7d7d" stroke="#7d7d7d" stroke-width="3" stroke-linejoin="round" /><polygon points="1800,250 1860,205 1865,360 1800,425" fill="#1e1e1e" stroke="#1e1e1e" stroke-width="3" stroke-linejoin="round" /><polygon points="1860,205 1925,180 1932,300 1865,360" fill="#555" stroke="#555" stroke-width="3" stroke-linejoin="round" /><polygon points="1545,400 1830,262 1832,400 1652,492 1562,542" fill="#a6a6a6" stroke="#a6a6a6" stroke-width="3" stroke-linejoin="round" /><polygon points="1370,300 1640,175 1832,264 1545,402" fill="#bebebe" stroke="#bebebe" stroke-width="3" stroke-linejoin="round" /><polygon points="1385,300 1630,188 1790,265 1525,385" fill="#c9c9c9" stroke="#9d9d9d" stroke-width="4" stroke-linejoin="round" /><polygon points="1385,300 1525,385 1525,412 1385,325" fill="#a0a0a0" stroke="#a0a0a0" stroke-width="3" stroke-linejoin="round" /><ellipse cx="1480.0" cy="262.0" rx="10.0" ry="6.0" fill="#555" /><ellipse cx="1650.0" cy="205.0" rx="10.0" ry="6.0" fill="#555" /><ellipse cx="1570.0" cy="300.0" rx="10.0" ry="6.0" fill="#555" /><ellipse cx="1735.0" cy="245.0" rx="10.0" ry="6.0" fill="#555" /><polygon points="130,805 1370,290 1560,395 345,905" fill="#d6d7d8" stroke="#d6d7d8" stroke-width="3" stroke-linejoin="round" /><polygon points="250,790 1395,315 1430,335 290,815" fill="#c4c5c6" stroke="#c4c5c6" stroke-width="3" stroke-linejoin="round" /><polygon points="345,905 1560,395 1562,425 350,938" fill="#c9cacb" stroke="#c9cacb" stroke-width="3" stroke-linejoin="round" /><polygon points="347,930 1561,420 1566,548 352,1127" fill="url(#gLinF)" stroke="url(#gLinF)" stroke-width="3" stroke-linejoin="round" /><polygon points="350,1000 1563,480 1563,492 350,1014" fill="#8f9194" stroke="#8f9194" stroke-width="3" stroke-linejoin="round" /><polygon points="1420,515 1505,482 1505,505 1420,540" fill="#e8743a" stroke="#e8743a" stroke-width="3" stroke-linejoin="round" /><polygon points="125,810 190,785 410,875 345,905" fill="#9c9c9a" stroke="#9c9c9a" stroke-width="3" stroke-linejoin="round" /><polygon points="125,810 345,902 352,1127 135,1002" fill="#8b8b89" stroke="#8b8b89" stroke-width="3" stroke-linejoin="round" /><ellipse cx="200.0" cy="812.0" rx="16.0" ry="9.0" fill="#1d1d1d" /><ellipse cx="282.0" cy="860.0" rx="16.0" ry="9.0" fill="#1d1d1d" /><circle cx="672.0" cy="885.0" r="7.0" fill="#444"/><polygon points="650,548 830,692 830,735 650,592" fill="#a9a9a9" stroke="#a9a9a9" stroke-width="3" stroke-linejoin="round" /><polygon points="830,692 1165,522 1165,562 830,735" fill="#b7b7b7" stroke="#b7b7b7" stroke-width="3" stroke-linejoin="round" /><polygon points="650,548 965,420 1165,522 830,692" fill="#d1d1d1" stroke="#b0b0b0" stroke-width="4" stroke-linejoin="round" /><ellipse cx="795.0" cy="565.0" rx="9.0" ry="6.0" fill="#777" /><ellipse cx="915.0" cy="465.0" rx="9.0" ry="6.0" fill="#777" /><ellipse cx="1015.0" cy="478.0" rx="9.0" ry="6.0" fill="#777" /><ellipse cx="900.0" cy="585.0" rx="9.0" ry="6.0" fill="#777" /><ellipse cx="1040.0" cy="520.0" rx="9.0" ry="6.0" fill="#777" /></g>
<g transform="translate(2250.00,1650.00) scale(0.14939)"><polygon points="150,560 620,650 745,660 747,692 712,742 150,622" fill="#b3b3b3" stroke="#b3b3b3" stroke-width="3" stroke-linejoin="round" /><polygon points="640,395 700,350 830,375 1045,260 1052,482 745,692 650,640" fill="#232325" stroke="#232325" stroke-width="3" stroke-linejoin="round" /><polygon points="200,290 330,205 470,150 1045,260 830,377 700,350 640,397" fill="#2f2f31" stroke="#2f2f31" stroke-width="3" stroke-linejoin="round" /><polygon points="150,400 200,290 640,397 650,642 150,562" fill="#1b1b1d" stroke="#1b1b1d" stroke-width="3" stroke-linejoin="round" /><polygon points="150,400 262,382 262,548 150,540" fill="#111112" stroke="#111112" stroke-width="3" stroke-linejoin="round" /><polygon points="262,382 600,420 612,472 560,622 262,575" fill="#161617" stroke="#161617" stroke-width="3" stroke-linejoin="round" /><polygon points="285,430 480,455 480,590 285,560" fill="#0b0b0b" stroke="#0b0b0b" stroke-width="3" stroke-linejoin="round" /><polygon points="200,290 640,397 600,420 262,382 150,400" fill="#39393b" stroke="#39393b" stroke-width="3" stroke-linejoin="round" /><polygon points="430,215 482,185 912,290 872,332" fill="#e8e6d8" stroke="#e8e6d8" stroke-width="3" stroke-linejoin="round" /><polygon points="470,200 500,184 700,232 672,252" fill="#1d1d1d" stroke="#1d1d1d" stroke-width="3" stroke-linejoin="round" /><polygon points="560,250 600,228 720,256 680,282" fill="#26241f" stroke="#26241f" stroke-width="3" stroke-linejoin="round" /><polygon points="682,262 702,245 906,295 890,316" fill="#d5281e" stroke="#d5281e" stroke-width="3" stroke-linejoin="round" /><polygon points="370,255 470,245 480,280 380,292" fill="#3a3a3c" stroke="#555" stroke-width="3" stroke-linejoin="round" /><polygon points="780,230 850,212 890,240 820,262" fill="#161617" stroke="#161617" stroke-width="3" stroke-linejoin="round" /><polygon points="580,170 650,160 660,190 590,200" fill="#1c1c1d" stroke="#1c1c1d" stroke-width="3" stroke-linejoin="round" /><polygon points="650,545 742,502 812,522 812,562 722,602 650,592" fill="#2b2b2d" stroke="#2b2b2d" stroke-width="3" stroke-linejoin="round" /><ellipse cx="722.0" cy="548.0" rx="26.0" ry="14.0" fill="#0e0e0e" /></g>
<g transform="translate(2270.00,1900.00) scale(0.07937)"><polygon points="470,588 780,345 1270,420 1292,500 1040,708" fill="#6b6b6b" stroke="#6b6b6b" stroke-width="3" stroke-linejoin="round" /><polygon points="640,455 780,345 1270,420 1150,525" fill="#9b9b9b" stroke="#9b9b9b" stroke-width="3" stroke-linejoin="round" /><polygon points="1150,525 1270,420 1292,500 1225,560" fill="#4a4a4a" stroke="#4a4a4a" stroke-width="3" stroke-linejoin="round" /><polygon points="1040,705 1292,500 1400,572 1400,610 1040,735" fill="#a3a3a3" stroke="#a3a3a3" stroke-width="3" stroke-linejoin="round" /><polygon points="1040,720 1400,570 1400,1082 1040,1492" fill="#4b4b4b" stroke="#4b4b4b" stroke-width="3" stroke-linejoin="round" /><polygon points="1100,755 1255,690 1255,1250 1100,1410" fill="#3b3b3b" stroke="#3b3b3b" stroke-width="3" stroke-linejoin="round" /><polygon points="1255,655 1400,585 1400,1082 1255,1250" fill="#5f5f5f" stroke="#5f5f5f" stroke-width="3" stroke-linejoin="round" /><polygon points="1040,712 1100,690 1100,1425 1040,1492" fill="#b5b5b5" stroke="#b5b5b5" stroke-width="3" stroke-linejoin="round" /><polygon points="1225,560 1292,500 1400,572 1255,650" fill="#7a7a7a" stroke="#7a7a7a" stroke-width="3" stroke-linejoin="round" /><path d="M265,640 Q265,598 305,603 L1005,712 Q1042,718 1042,760 L1042,1450 Q1042,1495 1000,1486 L300,1368 Q265,1362 265,1322 Z" fill="url(#gFlange)" stroke="#a8a8a8" stroke-width="5"/><polygon points="300,600 470,585 1040,703 1040,725" fill="#d9d9d9" stroke="#d9d9d9" stroke-width="3" stroke-linejoin="round" /><ellipse cx="640.0" cy="1052.0" rx="250.0" ry="262.0" fill="#a9a7a1" stroke="#8a8884" stroke-width="6" transform="rotate(-8 640 1052)"/><ellipse cx="628.0" cy="1040.0" rx="98.0" ry="84.0" fill="#7a7874" /><line x1="620" y1="1050" x2="510" y2="1175" stroke="#8f8d89" stroke-width="96" stroke-linecap="round"/><circle cx="505.0" cy="1180.0" r="50.0" fill="#d3d1cd" stroke="#9a9894" stroke-width="4"/><circle cx="503.0" cy="1183.0" r="14.0" fill="#1e1e1e"/><circle cx="315.0" cy="680.0" r="30.0" fill="#4a4a4a" stroke="#2e2e2e" stroke-width="5"/><circle cx="970.0" cy="770.0" r="30.0" fill="#4a4a4a" stroke="#2e2e2e" stroke-width="5"/><circle cx="325.0" cy="1355.0" r="30.0" fill="#4a4a4a" stroke="#2e2e2e" stroke-width="5"/><circle cx="970.0" cy="1450.0" r="30.0" fill="#4a4a4a" stroke="#2e2e2e" stroke-width="5"/></g>
</svg>
</body></html>
